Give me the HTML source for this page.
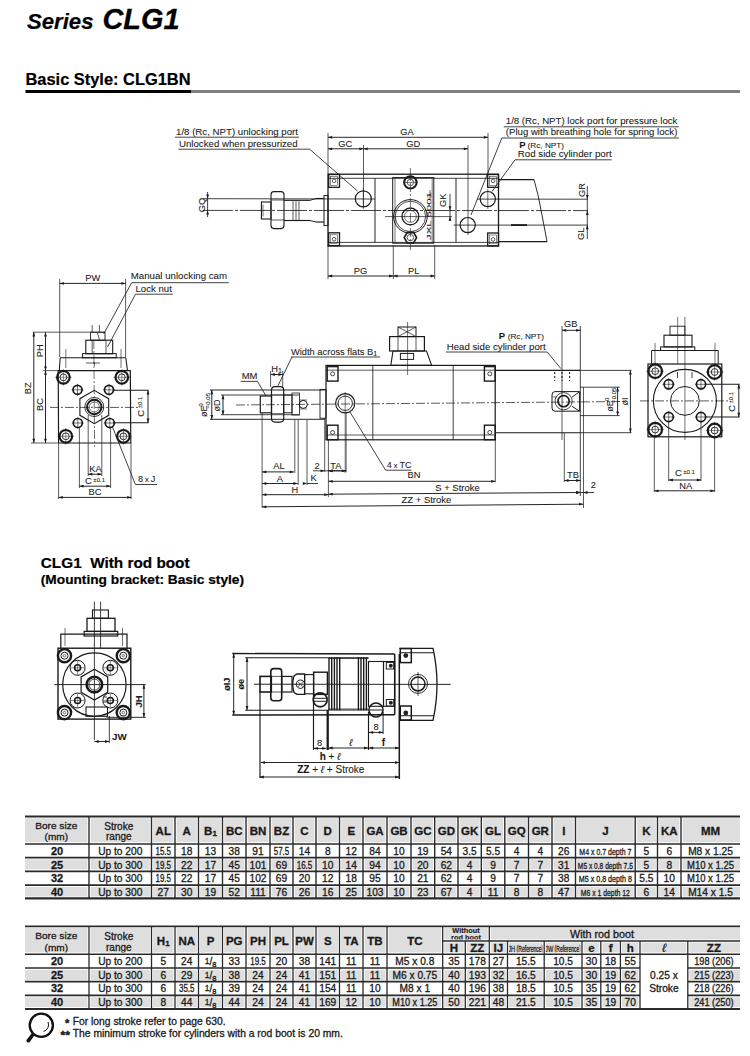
<!DOCTYPE html>
<html><head><meta charset="utf-8"><style>
html,body{margin:0;padding:0;background:#fff;width:750px;height:1056px;overflow:hidden}
svg{position:absolute;left:0;top:0;font-family:"Liberation Sans",sans-serif}
</style></head><body>
<svg width="750" height="1056" viewBox="0 0 750 1056">
<text x="27" y="29.3" font-size="22" text-anchor="start" font-weight="bold" font-style="italic" textLength="66.5" lengthAdjust="spacingAndGlyphs" stroke="#000" stroke-width="0.2" fill="#000">Series</text>
<text x="102.5" y="29.3" font-size="29" text-anchor="start" font-weight="bold" font-style="italic" textLength="77" lengthAdjust="spacingAndGlyphs" stroke="#000" stroke-width="0.3" fill="#000">CLG1</text>
<text x="25.5" y="84.5" font-size="16" text-anchor="start" font-weight="bold" textLength="165" lengthAdjust="spacingAndGlyphs" stroke="#000" stroke-width="0.2" fill="#000">Basic Style: CLG1BN</text>
<rect x="25.5" y="90" width="165.5" height="3" fill="#000"/>
<rect x="191" y="90" width="549" height="3" fill="#7f7f7f"/>
<rect x="25" y="816.5" width="715" height="27.5" fill="#dedede"/>
<rect x="25" y="857.6" width="715" height="13.7" fill="#dedede"/>
<rect x="25" y="885.2" width="715" height="13.2" fill="#dedede"/>
<text x="56.3" y="828.8" font-size="9.6" text-anchor="middle" font-weight="normal" textLength="42" lengthAdjust="spacingAndGlyphs" stroke="#1a1a1a" stroke-width="0.3" fill="#1a1a1a">Bore size</text>
<text x="56.3" y="840.3" font-size="9.6" text-anchor="middle" font-weight="normal" textLength="23.5" lengthAdjust="spacingAndGlyphs" stroke="#1a1a1a" stroke-width="0.3" fill="#1a1a1a">(mm)</text>
<text x="118.8" y="829.6" font-size="10" text-anchor="middle" font-weight="normal" textLength="29" lengthAdjust="spacingAndGlyphs" stroke="#1a1a1a" stroke-width="0.3" fill="#1a1a1a">Stroke</text>
<text x="118.8" y="840.2" font-size="10" text-anchor="middle" font-weight="normal" textLength="25.5" lengthAdjust="spacingAndGlyphs" stroke="#1a1a1a" stroke-width="0.3" fill="#1a1a1a">range</text>
<text x="163.25" y="834.6" font-size="11.5" text-anchor="middle" font-weight="bold" stroke="#1a1a1a" stroke-width="0.3" fill="#1a1a1a">AL</text>
<text x="186.75" y="834.6" font-size="11.5" text-anchor="middle" font-weight="bold" stroke="#1a1a1a" stroke-width="0.3" fill="#1a1a1a">A</text>
<text x="210.5" y="834.6" font-size="11.5" text-anchor="middle" font-weight="bold" stroke="#1a1a1a" stroke-width="0.3" fill="#1a1a1a">B<tspan font-size="8" dy="1">1</tspan></text>
<text x="234.25" y="834.6" font-size="11.5" text-anchor="middle" font-weight="bold" stroke="#1a1a1a" stroke-width="0.3" fill="#1a1a1a">BC</text>
<text x="258" y="834.6" font-size="11.5" text-anchor="middle" font-weight="bold" stroke="#1a1a1a" stroke-width="0.3" fill="#1a1a1a">BN</text>
<text x="281.5" y="834.6" font-size="11.5" text-anchor="middle" font-weight="bold" stroke="#1a1a1a" stroke-width="0.3" fill="#1a1a1a">BZ</text>
<text x="304.5" y="834.6" font-size="11.5" text-anchor="middle" font-weight="bold" stroke="#1a1a1a" stroke-width="0.3" fill="#1a1a1a">C</text>
<text x="327.75" y="834.6" font-size="11.5" text-anchor="middle" font-weight="bold" stroke="#1a1a1a" stroke-width="0.3" fill="#1a1a1a">D</text>
<text x="351.25" y="834.6" font-size="11.5" text-anchor="middle" font-weight="bold" stroke="#1a1a1a" stroke-width="0.3" fill="#1a1a1a">E</text>
<text x="375" y="834.6" font-size="11.5" text-anchor="middle" font-weight="bold" stroke="#1a1a1a" stroke-width="0.3" fill="#1a1a1a">GA</text>
<text x="399" y="834.6" font-size="11.5" text-anchor="middle" font-weight="bold" stroke="#1a1a1a" stroke-width="0.3" fill="#1a1a1a">GB</text>
<text x="422.85" y="834.6" font-size="11.5" text-anchor="middle" font-weight="bold" stroke="#1a1a1a" stroke-width="0.3" fill="#1a1a1a">GC</text>
<text x="446.35" y="834.6" font-size="11.5" text-anchor="middle" font-weight="bold" stroke="#1a1a1a" stroke-width="0.3" fill="#1a1a1a">GD</text>
<text x="469.65" y="834.6" font-size="11.5" text-anchor="middle" font-weight="bold" stroke="#1a1a1a" stroke-width="0.3" fill="#1a1a1a">GK</text>
<text x="493.05" y="834.6" font-size="11.5" text-anchor="middle" font-weight="bold" stroke="#1a1a1a" stroke-width="0.3" fill="#1a1a1a">GL</text>
<text x="516.65" y="834.6" font-size="11.5" text-anchor="middle" font-weight="bold" stroke="#1a1a1a" stroke-width="0.3" fill="#1a1a1a">GQ</text>
<text x="540.25" y="834.6" font-size="11.5" text-anchor="middle" font-weight="bold" stroke="#1a1a1a" stroke-width="0.3" fill="#1a1a1a">GR</text>
<text x="563.75" y="834.6" font-size="11.5" text-anchor="middle" font-weight="bold" stroke="#1a1a1a" stroke-width="0.3" fill="#1a1a1a">I</text>
<text x="605.35" y="834.6" font-size="11.5" text-anchor="middle" font-weight="bold" stroke="#1a1a1a" stroke-width="0.3" fill="#1a1a1a">J</text>
<text x="646.35" y="834.6" font-size="11.5" text-anchor="middle" font-weight="bold" stroke="#1a1a1a" stroke-width="0.3" fill="#1a1a1a">K</text>
<text x="669.25" y="834.6" font-size="11.5" text-anchor="middle" font-weight="bold" stroke="#1a1a1a" stroke-width="0.3" fill="#1a1a1a">KA</text>
<text x="710.5" y="834.6" font-size="11.5" text-anchor="middle" font-weight="bold" stroke="#1a1a1a" stroke-width="0.3" fill="#1a1a1a">MM</text>
<line x1="89" y1="816.5" x2="89" y2="898.4" stroke="#fff" stroke-width="3.2"/>
<line x1="151.5" y1="816.5" x2="151.5" y2="898.4" stroke="#fff" stroke-width="3.2"/>
<line x1="175" y1="816.5" x2="175" y2="898.4" stroke="#fff" stroke-width="3.2"/>
<line x1="198.5" y1="816.5" x2="198.5" y2="898.4" stroke="#fff" stroke-width="3.2"/>
<line x1="222.5" y1="816.5" x2="222.5" y2="898.4" stroke="#fff" stroke-width="3.2"/>
<line x1="246" y1="816.5" x2="246" y2="898.4" stroke="#fff" stroke-width="3.2"/>
<line x1="270" y1="816.5" x2="270" y2="898.4" stroke="#fff" stroke-width="3.2"/>
<line x1="293" y1="816.5" x2="293" y2="898.4" stroke="#fff" stroke-width="3.2"/>
<line x1="316" y1="816.5" x2="316" y2="898.4" stroke="#fff" stroke-width="3.2"/>
<line x1="339.5" y1="816.5" x2="339.5" y2="898.4" stroke="#fff" stroke-width="3.2"/>
<line x1="363" y1="816.5" x2="363" y2="898.4" stroke="#fff" stroke-width="3.2"/>
<line x1="387" y1="816.5" x2="387" y2="898.4" stroke="#fff" stroke-width="3.2"/>
<line x1="411" y1="816.5" x2="411" y2="898.4" stroke="#fff" stroke-width="3.2"/>
<line x1="434.7" y1="816.5" x2="434.7" y2="898.4" stroke="#fff" stroke-width="3.2"/>
<line x1="458" y1="816.5" x2="458" y2="898.4" stroke="#fff" stroke-width="3.2"/>
<line x1="481.3" y1="816.5" x2="481.3" y2="898.4" stroke="#fff" stroke-width="3.2"/>
<line x1="504.8" y1="816.5" x2="504.8" y2="898.4" stroke="#fff" stroke-width="3.2"/>
<line x1="528.5" y1="816.5" x2="528.5" y2="898.4" stroke="#fff" stroke-width="3.2"/>
<line x1="552" y1="816.5" x2="552" y2="898.4" stroke="#fff" stroke-width="3.2"/>
<line x1="575.5" y1="816.5" x2="575.5" y2="898.4" stroke="#fff" stroke-width="3.2"/>
<line x1="635.2" y1="816.5" x2="635.2" y2="898.4" stroke="#fff" stroke-width="3.2"/>
<line x1="657.5" y1="816.5" x2="657.5" y2="898.4" stroke="#fff" stroke-width="3.2"/>
<line x1="681" y1="816.5" x2="681" y2="898.4" stroke="#fff" stroke-width="3.2"/>
<line x1="25" y1="816.5" x2="740" y2="816.5" stroke="#fff" stroke-width="3.6"/>
<line x1="25" y1="844" x2="740" y2="844" stroke="#fff" stroke-width="3.4"/>
<line x1="25" y1="857.6" x2="740" y2="857.6" stroke="#fff" stroke-width="3.5"/>
<line x1="25" y1="871.3" x2="740" y2="871.3" stroke="#fff" stroke-width="3.5"/>
<line x1="25" y1="885.2" x2="740" y2="885.2" stroke="#fff" stroke-width="3.5"/>
<line x1="25" y1="898.4" x2="740" y2="898.4" stroke="#fff" stroke-width="3.9"/>
<line x1="89" y1="816.5" x2="89" y2="898.4" stroke="#2a2a2a" stroke-width="1.4"/>
<line x1="151.5" y1="816.5" x2="151.5" y2="898.4" stroke="#2a2a2a" stroke-width="1.4"/>
<line x1="175" y1="816.5" x2="175" y2="898.4" stroke="#2a2a2a" stroke-width="1.4"/>
<line x1="198.5" y1="816.5" x2="198.5" y2="898.4" stroke="#2a2a2a" stroke-width="1.4"/>
<line x1="222.5" y1="816.5" x2="222.5" y2="898.4" stroke="#2a2a2a" stroke-width="1.4"/>
<line x1="246" y1="816.5" x2="246" y2="898.4" stroke="#2a2a2a" stroke-width="1.4"/>
<line x1="270" y1="816.5" x2="270" y2="898.4" stroke="#2a2a2a" stroke-width="1.4"/>
<line x1="293" y1="816.5" x2="293" y2="898.4" stroke="#2a2a2a" stroke-width="1.4"/>
<line x1="316" y1="816.5" x2="316" y2="898.4" stroke="#2a2a2a" stroke-width="1.4"/>
<line x1="339.5" y1="816.5" x2="339.5" y2="898.4" stroke="#2a2a2a" stroke-width="1.4"/>
<line x1="363" y1="816.5" x2="363" y2="898.4" stroke="#2a2a2a" stroke-width="1.4"/>
<line x1="387" y1="816.5" x2="387" y2="898.4" stroke="#2a2a2a" stroke-width="1.4"/>
<line x1="411" y1="816.5" x2="411" y2="898.4" stroke="#2a2a2a" stroke-width="1.4"/>
<line x1="434.7" y1="816.5" x2="434.7" y2="898.4" stroke="#2a2a2a" stroke-width="1.4"/>
<line x1="458" y1="816.5" x2="458" y2="898.4" stroke="#2a2a2a" stroke-width="1.4"/>
<line x1="481.3" y1="816.5" x2="481.3" y2="898.4" stroke="#2a2a2a" stroke-width="1.4"/>
<line x1="504.8" y1="816.5" x2="504.8" y2="898.4" stroke="#2a2a2a" stroke-width="1.4"/>
<line x1="528.5" y1="816.5" x2="528.5" y2="898.4" stroke="#2a2a2a" stroke-width="1.4"/>
<line x1="552" y1="816.5" x2="552" y2="898.4" stroke="#2a2a2a" stroke-width="1.4"/>
<line x1="575.5" y1="816.5" x2="575.5" y2="898.4" stroke="#2a2a2a" stroke-width="1.4"/>
<line x1="635.2" y1="816.5" x2="635.2" y2="898.4" stroke="#2a2a2a" stroke-width="1.4"/>
<line x1="657.5" y1="816.5" x2="657.5" y2="898.4" stroke="#2a2a2a" stroke-width="1.4"/>
<line x1="681" y1="816.5" x2="681" y2="898.4" stroke="#2a2a2a" stroke-width="1.4"/>
<line x1="25" y1="816.5" x2="740" y2="816.5" stroke="#2a2a2a" stroke-width="1.8"/>
<line x1="25" y1="844" x2="740" y2="844" stroke="#2a2a2a" stroke-width="1.6"/>
<line x1="25" y1="857.6" x2="740" y2="857.6" stroke="#2a2a2a" stroke-width="1.7"/>
<line x1="25" y1="871.3" x2="740" y2="871.3" stroke="#2a2a2a" stroke-width="1.7"/>
<line x1="25" y1="885.2" x2="740" y2="885.2" stroke="#2a2a2a" stroke-width="1.7"/>
<line x1="25" y1="898.4" x2="740" y2="898.4" stroke="#2a2a2a" stroke-width="2.1"/>
<text x="57" y="855.05" font-size="11" text-anchor="middle" font-weight="bold" stroke="#1a1a1a" stroke-width="0.3" fill="#1a1a1a">20</text>
<text x="120.25" y="855.05" font-size="10.2" text-anchor="middle" font-weight="normal" stroke="#1a1a1a" stroke-width="0.3" fill="#1a1a1a">Up to 200</text>
<text x="163.25" y="855.05" font-size="10.2" text-anchor="middle" font-weight="normal" textLength="15.5" lengthAdjust="spacingAndGlyphs" stroke="#1a1a1a" stroke-width="0.3" fill="#1a1a1a">15.5</text>
<text x="186.75" y="855.05" font-size="10.2" text-anchor="middle" font-weight="normal" stroke="#1a1a1a" stroke-width="0.3" fill="#1a1a1a">18</text>
<text x="210.5" y="855.05" font-size="10.2" text-anchor="middle" font-weight="normal" stroke="#1a1a1a" stroke-width="0.3" fill="#1a1a1a">13</text>
<text x="234.25" y="855.05" font-size="10.2" text-anchor="middle" font-weight="normal" stroke="#1a1a1a" stroke-width="0.3" fill="#1a1a1a">38</text>
<text x="258" y="855.05" font-size="10.2" text-anchor="middle" font-weight="normal" stroke="#1a1a1a" stroke-width="0.3" fill="#1a1a1a">91</text>
<text x="281.5" y="855.05" font-size="10.2" text-anchor="middle" font-weight="normal" textLength="15.5" lengthAdjust="spacingAndGlyphs" stroke="#1a1a1a" stroke-width="0.3" fill="#1a1a1a">57.5</text>
<text x="304.5" y="855.05" font-size="10.2" text-anchor="middle" font-weight="normal" stroke="#1a1a1a" stroke-width="0.3" fill="#1a1a1a">14</text>
<text x="327.75" y="855.05" font-size="10.2" text-anchor="middle" font-weight="normal" stroke="#1a1a1a" stroke-width="0.3" fill="#1a1a1a">8</text>
<text x="351.25" y="855.05" font-size="10.2" text-anchor="middle" font-weight="normal" stroke="#1a1a1a" stroke-width="0.3" fill="#1a1a1a">12</text>
<text x="375" y="855.05" font-size="10.2" text-anchor="middle" font-weight="normal" stroke="#1a1a1a" stroke-width="0.3" fill="#1a1a1a">84</text>
<text x="399" y="855.05" font-size="10.2" text-anchor="middle" font-weight="normal" stroke="#1a1a1a" stroke-width="0.3" fill="#1a1a1a">10</text>
<text x="422.85" y="855.05" font-size="10.2" text-anchor="middle" font-weight="normal" stroke="#1a1a1a" stroke-width="0.3" fill="#1a1a1a">19</text>
<text x="446.35" y="855.05" font-size="10.2" text-anchor="middle" font-weight="normal" stroke="#1a1a1a" stroke-width="0.3" fill="#1a1a1a">54</text>
<text x="469.65" y="855.05" font-size="10.2" text-anchor="middle" font-weight="normal" stroke="#1a1a1a" stroke-width="0.3" fill="#1a1a1a">3.5</text>
<text x="493.05" y="855.05" font-size="10.2" text-anchor="middle" font-weight="normal" stroke="#1a1a1a" stroke-width="0.3" fill="#1a1a1a">5.5</text>
<text x="516.65" y="855.05" font-size="10.2" text-anchor="middle" font-weight="normal" stroke="#1a1a1a" stroke-width="0.3" fill="#1a1a1a">4</text>
<text x="540.25" y="855.05" font-size="10.2" text-anchor="middle" font-weight="normal" stroke="#1a1a1a" stroke-width="0.3" fill="#1a1a1a">4</text>
<text x="563.75" y="855.05" font-size="10.2" text-anchor="middle" font-weight="normal" stroke="#1a1a1a" stroke-width="0.3" fill="#1a1a1a">26</text>
<text x="605.35" y="855.05" font-size="9.2" text-anchor="middle" font-weight="normal" textLength="52" lengthAdjust="spacingAndGlyphs" stroke="#1a1a1a" stroke-width="0.3" fill="#1a1a1a">M4 x 0.7 depth 7</text>
<text x="646.35" y="855.05" font-size="10.2" text-anchor="middle" font-weight="normal" stroke="#1a1a1a" stroke-width="0.3" fill="#1a1a1a">5</text>
<text x="669.25" y="855.05" font-size="10.2" text-anchor="middle" font-weight="normal" stroke="#1a1a1a" stroke-width="0.3" fill="#1a1a1a">6</text>
<text x="710.5" y="855.05" font-size="10.2" text-anchor="middle" font-weight="normal" stroke="#1a1a1a" stroke-width="0.3" fill="#1a1a1a">M8 x 1.25</text>
<text x="57" y="868.65" font-size="11" text-anchor="middle" font-weight="bold" stroke="#1a1a1a" stroke-width="0.3" fill="#1a1a1a">25</text>
<text x="120.25" y="868.65" font-size="10.2" text-anchor="middle" font-weight="normal" stroke="#1a1a1a" stroke-width="0.3" fill="#1a1a1a">Up to 300</text>
<text x="163.25" y="868.65" font-size="10.2" text-anchor="middle" font-weight="normal" textLength="15.5" lengthAdjust="spacingAndGlyphs" stroke="#1a1a1a" stroke-width="0.3" fill="#1a1a1a">19.5</text>
<text x="186.75" y="868.65" font-size="10.2" text-anchor="middle" font-weight="normal" stroke="#1a1a1a" stroke-width="0.3" fill="#1a1a1a">22</text>
<text x="210.5" y="868.65" font-size="10.2" text-anchor="middle" font-weight="normal" stroke="#1a1a1a" stroke-width="0.3" fill="#1a1a1a">17</text>
<text x="234.25" y="868.65" font-size="10.2" text-anchor="middle" font-weight="normal" stroke="#1a1a1a" stroke-width="0.3" fill="#1a1a1a">45</text>
<text x="258" y="868.65" font-size="10.2" text-anchor="middle" font-weight="normal" stroke="#1a1a1a" stroke-width="0.3" fill="#1a1a1a">101</text>
<text x="281.5" y="868.65" font-size="10.2" text-anchor="middle" font-weight="normal" stroke="#1a1a1a" stroke-width="0.3" fill="#1a1a1a">69</text>
<text x="304.5" y="868.65" font-size="10.2" text-anchor="middle" font-weight="normal" textLength="15.5" lengthAdjust="spacingAndGlyphs" stroke="#1a1a1a" stroke-width="0.3" fill="#1a1a1a">16.5</text>
<text x="327.75" y="868.65" font-size="10.2" text-anchor="middle" font-weight="normal" stroke="#1a1a1a" stroke-width="0.3" fill="#1a1a1a">10</text>
<text x="351.25" y="868.65" font-size="10.2" text-anchor="middle" font-weight="normal" stroke="#1a1a1a" stroke-width="0.3" fill="#1a1a1a">14</text>
<text x="375" y="868.65" font-size="10.2" text-anchor="middle" font-weight="normal" stroke="#1a1a1a" stroke-width="0.3" fill="#1a1a1a">94</text>
<text x="399" y="868.65" font-size="10.2" text-anchor="middle" font-weight="normal" stroke="#1a1a1a" stroke-width="0.3" fill="#1a1a1a">10</text>
<text x="422.85" y="868.65" font-size="10.2" text-anchor="middle" font-weight="normal" stroke="#1a1a1a" stroke-width="0.3" fill="#1a1a1a">20</text>
<text x="446.35" y="868.65" font-size="10.2" text-anchor="middle" font-weight="normal" stroke="#1a1a1a" stroke-width="0.3" fill="#1a1a1a">62</text>
<text x="469.65" y="868.65" font-size="10.2" text-anchor="middle" font-weight="normal" stroke="#1a1a1a" stroke-width="0.3" fill="#1a1a1a">4</text>
<text x="493.05" y="868.65" font-size="10.2" text-anchor="middle" font-weight="normal" stroke="#1a1a1a" stroke-width="0.3" fill="#1a1a1a">9</text>
<text x="516.65" y="868.65" font-size="10.2" text-anchor="middle" font-weight="normal" stroke="#1a1a1a" stroke-width="0.3" fill="#1a1a1a">7</text>
<text x="540.25" y="868.65" font-size="10.2" text-anchor="middle" font-weight="normal" stroke="#1a1a1a" stroke-width="0.3" fill="#1a1a1a">7</text>
<text x="563.75" y="868.65" font-size="10.2" text-anchor="middle" font-weight="normal" stroke="#1a1a1a" stroke-width="0.3" fill="#1a1a1a">31</text>
<text x="605.35" y="868.65" font-size="9.2" text-anchor="middle" font-weight="normal" textLength="55" lengthAdjust="spacingAndGlyphs" stroke="#1a1a1a" stroke-width="0.3" fill="#1a1a1a">M5 x 0.8 depth 7.5</text>
<text x="646.35" y="868.65" font-size="10.2" text-anchor="middle" font-weight="normal" stroke="#1a1a1a" stroke-width="0.3" fill="#1a1a1a">5</text>
<text x="669.25" y="868.65" font-size="10.2" text-anchor="middle" font-weight="normal" stroke="#1a1a1a" stroke-width="0.3" fill="#1a1a1a">8</text>
<text x="710.5" y="868.65" font-size="10.2" text-anchor="middle" font-weight="normal" textLength="47" lengthAdjust="spacingAndGlyphs" stroke="#1a1a1a" stroke-width="0.3" fill="#1a1a1a">M10 x 1.25</text>
<text x="57" y="882.45" font-size="11" text-anchor="middle" font-weight="bold" stroke="#1a1a1a" stroke-width="0.3" fill="#1a1a1a">32</text>
<text x="120.25" y="882.45" font-size="10.2" text-anchor="middle" font-weight="normal" stroke="#1a1a1a" stroke-width="0.3" fill="#1a1a1a">Up to 300</text>
<text x="163.25" y="882.45" font-size="10.2" text-anchor="middle" font-weight="normal" textLength="15.5" lengthAdjust="spacingAndGlyphs" stroke="#1a1a1a" stroke-width="0.3" fill="#1a1a1a">19.5</text>
<text x="186.75" y="882.45" font-size="10.2" text-anchor="middle" font-weight="normal" stroke="#1a1a1a" stroke-width="0.3" fill="#1a1a1a">22</text>
<text x="210.5" y="882.45" font-size="10.2" text-anchor="middle" font-weight="normal" stroke="#1a1a1a" stroke-width="0.3" fill="#1a1a1a">17</text>
<text x="234.25" y="882.45" font-size="10.2" text-anchor="middle" font-weight="normal" stroke="#1a1a1a" stroke-width="0.3" fill="#1a1a1a">45</text>
<text x="258" y="882.45" font-size="10.2" text-anchor="middle" font-weight="normal" stroke="#1a1a1a" stroke-width="0.3" fill="#1a1a1a">102</text>
<text x="281.5" y="882.45" font-size="10.2" text-anchor="middle" font-weight="normal" stroke="#1a1a1a" stroke-width="0.3" fill="#1a1a1a">69</text>
<text x="304.5" y="882.45" font-size="10.2" text-anchor="middle" font-weight="normal" stroke="#1a1a1a" stroke-width="0.3" fill="#1a1a1a">20</text>
<text x="327.75" y="882.45" font-size="10.2" text-anchor="middle" font-weight="normal" stroke="#1a1a1a" stroke-width="0.3" fill="#1a1a1a">12</text>
<text x="351.25" y="882.45" font-size="10.2" text-anchor="middle" font-weight="normal" stroke="#1a1a1a" stroke-width="0.3" fill="#1a1a1a">18</text>
<text x="375" y="882.45" font-size="10.2" text-anchor="middle" font-weight="normal" stroke="#1a1a1a" stroke-width="0.3" fill="#1a1a1a">95</text>
<text x="399" y="882.45" font-size="10.2" text-anchor="middle" font-weight="normal" stroke="#1a1a1a" stroke-width="0.3" fill="#1a1a1a">10</text>
<text x="422.85" y="882.45" font-size="10.2" text-anchor="middle" font-weight="normal" stroke="#1a1a1a" stroke-width="0.3" fill="#1a1a1a">21</text>
<text x="446.35" y="882.45" font-size="10.2" text-anchor="middle" font-weight="normal" stroke="#1a1a1a" stroke-width="0.3" fill="#1a1a1a">62</text>
<text x="469.65" y="882.45" font-size="10.2" text-anchor="middle" font-weight="normal" stroke="#1a1a1a" stroke-width="0.3" fill="#1a1a1a">4</text>
<text x="493.05" y="882.45" font-size="10.2" text-anchor="middle" font-weight="normal" stroke="#1a1a1a" stroke-width="0.3" fill="#1a1a1a">9</text>
<text x="516.65" y="882.45" font-size="10.2" text-anchor="middle" font-weight="normal" stroke="#1a1a1a" stroke-width="0.3" fill="#1a1a1a">7</text>
<text x="540.25" y="882.45" font-size="10.2" text-anchor="middle" font-weight="normal" stroke="#1a1a1a" stroke-width="0.3" fill="#1a1a1a">7</text>
<text x="563.75" y="882.45" font-size="10.2" text-anchor="middle" font-weight="normal" stroke="#1a1a1a" stroke-width="0.3" fill="#1a1a1a">38</text>
<text x="605.35" y="882.45" font-size="9.2" text-anchor="middle" font-weight="normal" textLength="53" lengthAdjust="spacingAndGlyphs" stroke="#1a1a1a" stroke-width="0.3" fill="#1a1a1a">M5 x 0.8 depth 8</text>
<text x="646.35" y="882.45" font-size="10.2" text-anchor="middle" font-weight="normal" stroke="#1a1a1a" stroke-width="0.3" fill="#1a1a1a">5.5</text>
<text x="669.25" y="882.45" font-size="10.2" text-anchor="middle" font-weight="normal" stroke="#1a1a1a" stroke-width="0.3" fill="#1a1a1a">10</text>
<text x="710.5" y="882.45" font-size="10.2" text-anchor="middle" font-weight="normal" textLength="47" lengthAdjust="spacingAndGlyphs" stroke="#1a1a1a" stroke-width="0.3" fill="#1a1a1a">M10 x 1.25</text>
<text x="57" y="896" font-size="11" text-anchor="middle" font-weight="bold" stroke="#1a1a1a" stroke-width="0.3" fill="#1a1a1a">40</text>
<text x="120.25" y="896" font-size="10.2" text-anchor="middle" font-weight="normal" stroke="#1a1a1a" stroke-width="0.3" fill="#1a1a1a">Up to 300</text>
<text x="163.25" y="896" font-size="10.2" text-anchor="middle" font-weight="normal" stroke="#1a1a1a" stroke-width="0.3" fill="#1a1a1a">27</text>
<text x="186.75" y="896" font-size="10.2" text-anchor="middle" font-weight="normal" stroke="#1a1a1a" stroke-width="0.3" fill="#1a1a1a">30</text>
<text x="210.5" y="896" font-size="10.2" text-anchor="middle" font-weight="normal" stroke="#1a1a1a" stroke-width="0.3" fill="#1a1a1a">19</text>
<text x="234.25" y="896" font-size="10.2" text-anchor="middle" font-weight="normal" stroke="#1a1a1a" stroke-width="0.3" fill="#1a1a1a">52</text>
<text x="258" y="896" font-size="10.2" text-anchor="middle" font-weight="normal" stroke="#1a1a1a" stroke-width="0.3" fill="#1a1a1a">111</text>
<text x="281.5" y="896" font-size="10.2" text-anchor="middle" font-weight="normal" stroke="#1a1a1a" stroke-width="0.3" fill="#1a1a1a">76</text>
<text x="304.5" y="896" font-size="10.2" text-anchor="middle" font-weight="normal" stroke="#1a1a1a" stroke-width="0.3" fill="#1a1a1a">26</text>
<text x="327.75" y="896" font-size="10.2" text-anchor="middle" font-weight="normal" stroke="#1a1a1a" stroke-width="0.3" fill="#1a1a1a">16</text>
<text x="351.25" y="896" font-size="10.2" text-anchor="middle" font-weight="normal" stroke="#1a1a1a" stroke-width="0.3" fill="#1a1a1a">25</text>
<text x="375" y="896" font-size="10.2" text-anchor="middle" font-weight="normal" stroke="#1a1a1a" stroke-width="0.3" fill="#1a1a1a">103</text>
<text x="399" y="896" font-size="10.2" text-anchor="middle" font-weight="normal" stroke="#1a1a1a" stroke-width="0.3" fill="#1a1a1a">10</text>
<text x="422.85" y="896" font-size="10.2" text-anchor="middle" font-weight="normal" stroke="#1a1a1a" stroke-width="0.3" fill="#1a1a1a">23</text>
<text x="446.35" y="896" font-size="10.2" text-anchor="middle" font-weight="normal" stroke="#1a1a1a" stroke-width="0.3" fill="#1a1a1a">67</text>
<text x="469.65" y="896" font-size="10.2" text-anchor="middle" font-weight="normal" stroke="#1a1a1a" stroke-width="0.3" fill="#1a1a1a">4</text>
<text x="493.05" y="896" font-size="10.2" text-anchor="middle" font-weight="normal" stroke="#1a1a1a" stroke-width="0.3" fill="#1a1a1a">11</text>
<text x="516.65" y="896" font-size="10.2" text-anchor="middle" font-weight="normal" stroke="#1a1a1a" stroke-width="0.3" fill="#1a1a1a">8</text>
<text x="540.25" y="896" font-size="10.2" text-anchor="middle" font-weight="normal" stroke="#1a1a1a" stroke-width="0.3" fill="#1a1a1a">8</text>
<text x="563.75" y="896" font-size="10.2" text-anchor="middle" font-weight="normal" stroke="#1a1a1a" stroke-width="0.3" fill="#1a1a1a">47</text>
<text x="605.35" y="896" font-size="9.2" text-anchor="middle" font-weight="normal" textLength="49" lengthAdjust="spacingAndGlyphs" stroke="#1a1a1a" stroke-width="0.3" fill="#1a1a1a">M6 x 1 depth 12</text>
<text x="646.35" y="896" font-size="10.2" text-anchor="middle" font-weight="normal" stroke="#1a1a1a" stroke-width="0.3" fill="#1a1a1a">6</text>
<text x="669.25" y="896" font-size="10.2" text-anchor="middle" font-weight="normal" stroke="#1a1a1a" stroke-width="0.3" fill="#1a1a1a">14</text>
<text x="710.5" y="896" font-size="10.2" text-anchor="middle" font-weight="normal" stroke="#1a1a1a" stroke-width="0.3" fill="#1a1a1a">M14 x 1.5</text>
<rect x="25" y="926.3" width="715" height="27.9" fill="#dedede"/>
<rect x="25" y="968" width="715" height="13.7" fill="#dedede"/>
<rect x="25" y="995.4" width="715" height="13.6" fill="#dedede"/>
<rect x="640" y="954.2" width="47.8" height="54.8" fill="#fff"/>
<text x="56.3" y="939.4" font-size="9.6" text-anchor="middle" font-weight="normal" textLength="42" lengthAdjust="spacingAndGlyphs" stroke="#1a1a1a" stroke-width="0.3" fill="#1a1a1a">Bore size</text>
<text x="56.3" y="950.6" font-size="9.6" text-anchor="middle" font-weight="normal" textLength="23.5" lengthAdjust="spacingAndGlyphs" stroke="#1a1a1a" stroke-width="0.3" fill="#1a1a1a">(mm)</text>
<text x="118.8" y="939.9" font-size="10" text-anchor="middle" font-weight="normal" textLength="29" lengthAdjust="spacingAndGlyphs" stroke="#1a1a1a" stroke-width="0.3" fill="#1a1a1a">Stroke</text>
<text x="118.8" y="950.5" font-size="10" text-anchor="middle" font-weight="normal" textLength="25.5" lengthAdjust="spacingAndGlyphs" stroke="#1a1a1a" stroke-width="0.3" fill="#1a1a1a">range</text>
<text x="163.25" y="944.5" font-size="11.5" text-anchor="middle" font-weight="bold" stroke="#1a1a1a" stroke-width="0.3" fill="#1a1a1a">H<tspan font-size="8" dy="1">1</tspan></text>
<text x="186.75" y="944.5" font-size="11.5" text-anchor="middle" font-weight="bold" stroke="#1a1a1a" stroke-width="0.3" fill="#1a1a1a">NA</text>
<text x="210.5" y="944.5" font-size="11.5" text-anchor="middle" font-weight="bold" stroke="#1a1a1a" stroke-width="0.3" fill="#1a1a1a">P</text>
<text x="234.25" y="944.5" font-size="11.5" text-anchor="middle" font-weight="bold" stroke="#1a1a1a" stroke-width="0.3" fill="#1a1a1a">PG</text>
<text x="258" y="944.5" font-size="11.5" text-anchor="middle" font-weight="bold" stroke="#1a1a1a" stroke-width="0.3" fill="#1a1a1a">PH</text>
<text x="281.5" y="944.5" font-size="11.5" text-anchor="middle" font-weight="bold" stroke="#1a1a1a" stroke-width="0.3" fill="#1a1a1a">PL</text>
<text x="304.5" y="944.5" font-size="11.5" text-anchor="middle" font-weight="bold" stroke="#1a1a1a" stroke-width="0.3" fill="#1a1a1a">PW</text>
<text x="327.75" y="944.5" font-size="11.5" text-anchor="middle" font-weight="bold" stroke="#1a1a1a" stroke-width="0.3" fill="#1a1a1a">S</text>
<text x="351.25" y="944.5" font-size="11.5" text-anchor="middle" font-weight="bold" stroke="#1a1a1a" stroke-width="0.3" fill="#1a1a1a">TA</text>
<text x="375" y="944.5" font-size="11.5" text-anchor="middle" font-weight="bold" stroke="#1a1a1a" stroke-width="0.3" fill="#1a1a1a">TB</text>
<text x="414.85" y="944.5" font-size="11.5" text-anchor="middle" font-weight="bold" stroke="#1a1a1a" stroke-width="0.3" fill="#1a1a1a">TC</text>
<text x="466" y="933" font-size="7.4" text-anchor="middle" font-weight="bold" stroke="#1a1a1a" stroke-width="0.15" fill="#1a1a1a">Without</text>
<text x="466" y="939.7" font-size="7.4" text-anchor="middle" font-weight="bold" stroke="#1a1a1a" stroke-width="0.15" fill="#1a1a1a">rod boot</text>
<text x="602" y="937.8" font-size="10.5" text-anchor="middle" font-weight="normal" textLength="64" lengthAdjust="spacingAndGlyphs" stroke="#1a1a1a" stroke-width="0.3" fill="#1a1a1a">With rod boot</text>
<text x="454" y="951.8" font-size="11.5" text-anchor="middle" font-weight="bold" stroke="#1a1a1a" stroke-width="0.3" fill="#1a1a1a">H</text>
<text x="477.3" y="951.8" font-size="11.5" text-anchor="middle" font-weight="bold" stroke="#1a1a1a" stroke-width="0.3" fill="#1a1a1a">ZZ</text>
<text x="498.4" y="951.8" font-size="11.5" text-anchor="middle" font-weight="bold" stroke="#1a1a1a" stroke-width="0.3" fill="#1a1a1a">IJ</text>
<text x="591.4" y="951.8" font-size="11.5" text-anchor="middle" font-weight="bold" stroke="#1a1a1a" stroke-width="0.3" fill="#1a1a1a">e</text>
<text x="610.6" y="951.8" font-size="11.5" text-anchor="middle" font-weight="bold" stroke="#1a1a1a" stroke-width="0.3" fill="#1a1a1a">f</text>
<text x="630.2" y="951.8" font-size="11.5" text-anchor="middle" font-weight="bold" stroke="#1a1a1a" stroke-width="0.3" fill="#1a1a1a">h</text>
<text x="713.9" y="951.8" font-size="11.5" text-anchor="middle" font-weight="bold" stroke="#1a1a1a" stroke-width="0.3" fill="#1a1a1a">ZZ</text>
<text x="525.8" y="951.5" font-size="9.5" text-anchor="middle" font-weight="normal" textLength="35" lengthAdjust="spacingAndGlyphs" stroke="#1a1a1a" stroke-width="0.3" fill="#1a1a1a">JH<tspan font-size="8.5"> (Reference)</tspan></text>
<text x="563.1" y="951.5" font-size="9.5" text-anchor="middle" font-weight="normal" textLength="36" lengthAdjust="spacingAndGlyphs" stroke="#1a1a1a" stroke-width="0.3" fill="#1a1a1a">JW<tspan font-size="8.5"> (Reference)</tspan></text>
<text x="663.9" y="951.8" font-size="12" text-anchor="middle" font-weight="normal" font-style="italic" stroke="#1a1a1a" stroke-width="0.2" fill="#1a1a1a">ℓ</text>
<text x="663.9" y="979.3" font-size="10.2" text-anchor="middle" font-weight="normal" stroke="#1a1a1a" stroke-width="0.3" fill="#1a1a1a">0.25 x</text>
<text x="663.9" y="992.2" font-size="10.2" text-anchor="middle" font-weight="normal" stroke="#1a1a1a" stroke-width="0.3" fill="#1a1a1a">Stroke</text>
<line x1="89" y1="926.3" x2="89" y2="1009" stroke="#fff" stroke-width="3.1"/>
<line x1="151.5" y1="926.3" x2="151.5" y2="1009" stroke="#fff" stroke-width="3.1"/>
<line x1="175" y1="926.3" x2="175" y2="1009" stroke="#fff" stroke-width="3.1"/>
<line x1="198.5" y1="926.3" x2="198.5" y2="1009" stroke="#fff" stroke-width="3.1"/>
<line x1="222.5" y1="926.3" x2="222.5" y2="1009" stroke="#fff" stroke-width="3.1"/>
<line x1="246" y1="926.3" x2="246" y2="1009" stroke="#fff" stroke-width="3.1"/>
<line x1="270" y1="926.3" x2="270" y2="1009" stroke="#fff" stroke-width="3.1"/>
<line x1="293" y1="926.3" x2="293" y2="1009" stroke="#fff" stroke-width="3.1"/>
<line x1="316" y1="926.3" x2="316" y2="1009" stroke="#fff" stroke-width="3.1"/>
<line x1="339.5" y1="926.3" x2="339.5" y2="1009" stroke="#fff" stroke-width="3.1"/>
<line x1="363" y1="926.3" x2="363" y2="1009" stroke="#fff" stroke-width="3.1"/>
<line x1="387" y1="926.3" x2="387" y2="1009" stroke="#fff" stroke-width="3.1"/>
<line x1="442.7" y1="926.3" x2="442.7" y2="1009" stroke="#fff" stroke-width="3.1"/>
<line x1="489.3" y1="926.3" x2="489.3" y2="1009" stroke="#fff" stroke-width="3.1"/>
<line x1="465.3" y1="941" x2="465.3" y2="1009" stroke="#fff" stroke-width="3.1"/>
<line x1="507.5" y1="941" x2="507.5" y2="1009" stroke="#fff" stroke-width="3.1"/>
<line x1="544.2" y1="941" x2="544.2" y2="1009" stroke="#fff" stroke-width="3.1"/>
<line x1="582" y1="941" x2="582" y2="1009" stroke="#fff" stroke-width="3.1"/>
<line x1="600.8" y1="941" x2="600.8" y2="1009" stroke="#fff" stroke-width="3.1"/>
<line x1="620.4" y1="941" x2="620.4" y2="1009" stroke="#fff" stroke-width="3.1"/>
<line x1="640" y1="941" x2="640" y2="1009" stroke="#fff" stroke-width="3.1"/>
<line x1="687.8" y1="941" x2="687.8" y2="1009" stroke="#fff" stroke-width="3.1"/>
<line x1="442.7" y1="941" x2="740" y2="941" stroke="#fff" stroke-width="3.1"/>
<line x1="25" y1="926.3" x2="740" y2="926.3" stroke="#fff" stroke-width="3.6"/>
<line x1="25" y1="954.2" x2="740" y2="954.2" stroke="#fff" stroke-width="3.4"/>
<line x1="25" y1="968" x2="640" y2="968" stroke="#fff" stroke-width="3.5"/>
<line x1="687.8" y1="968" x2="740" y2="968" stroke="#fff" stroke-width="3.5"/>
<line x1="25" y1="981.7" x2="640" y2="981.7" stroke="#fff" stroke-width="3.5"/>
<line x1="687.8" y1="981.7" x2="740" y2="981.7" stroke="#fff" stroke-width="3.5"/>
<line x1="25" y1="995.4" x2="640" y2="995.4" stroke="#fff" stroke-width="3.5"/>
<line x1="687.8" y1="995.4" x2="740" y2="995.4" stroke="#fff" stroke-width="3.5"/>
<line x1="25" y1="1009" x2="740" y2="1009" stroke="#fff" stroke-width="3.9"/>
<line x1="89" y1="926.3" x2="89" y2="1009" stroke="#2a2a2a" stroke-width="1.3"/>
<line x1="151.5" y1="926.3" x2="151.5" y2="1009" stroke="#2a2a2a" stroke-width="1.3"/>
<line x1="175" y1="926.3" x2="175" y2="1009" stroke="#2a2a2a" stroke-width="1.3"/>
<line x1="198.5" y1="926.3" x2="198.5" y2="1009" stroke="#2a2a2a" stroke-width="1.3"/>
<line x1="222.5" y1="926.3" x2="222.5" y2="1009" stroke="#2a2a2a" stroke-width="1.3"/>
<line x1="246" y1="926.3" x2="246" y2="1009" stroke="#2a2a2a" stroke-width="1.3"/>
<line x1="270" y1="926.3" x2="270" y2="1009" stroke="#2a2a2a" stroke-width="1.3"/>
<line x1="293" y1="926.3" x2="293" y2="1009" stroke="#2a2a2a" stroke-width="1.3"/>
<line x1="316" y1="926.3" x2="316" y2="1009" stroke="#2a2a2a" stroke-width="1.3"/>
<line x1="339.5" y1="926.3" x2="339.5" y2="1009" stroke="#2a2a2a" stroke-width="1.3"/>
<line x1="363" y1="926.3" x2="363" y2="1009" stroke="#2a2a2a" stroke-width="1.3"/>
<line x1="387" y1="926.3" x2="387" y2="1009" stroke="#2a2a2a" stroke-width="1.3"/>
<line x1="442.7" y1="926.3" x2="442.7" y2="1009" stroke="#2a2a2a" stroke-width="1.3"/>
<line x1="489.3" y1="926.3" x2="489.3" y2="1009" stroke="#2a2a2a" stroke-width="1.3"/>
<line x1="465.3" y1="941" x2="465.3" y2="1009" stroke="#2a2a2a" stroke-width="1.3"/>
<line x1="507.5" y1="941" x2="507.5" y2="1009" stroke="#2a2a2a" stroke-width="1.3"/>
<line x1="544.2" y1="941" x2="544.2" y2="1009" stroke="#2a2a2a" stroke-width="1.3"/>
<line x1="582" y1="941" x2="582" y2="1009" stroke="#2a2a2a" stroke-width="1.3"/>
<line x1="600.8" y1="941" x2="600.8" y2="1009" stroke="#2a2a2a" stroke-width="1.3"/>
<line x1="620.4" y1="941" x2="620.4" y2="1009" stroke="#2a2a2a" stroke-width="1.3"/>
<line x1="640" y1="941" x2="640" y2="1009" stroke="#2a2a2a" stroke-width="1.3"/>
<line x1="687.8" y1="941" x2="687.8" y2="1009" stroke="#2a2a2a" stroke-width="1.3"/>
<line x1="442.7" y1="941" x2="740" y2="941" stroke="#2a2a2a" stroke-width="1.3"/>
<line x1="25" y1="926.3" x2="740" y2="926.3" stroke="#2a2a2a" stroke-width="1.8"/>
<line x1="25" y1="954.2" x2="740" y2="954.2" stroke="#2a2a2a" stroke-width="1.6"/>
<line x1="25" y1="968" x2="640" y2="968" stroke="#2a2a2a" stroke-width="1.7"/>
<line x1="687.8" y1="968" x2="740" y2="968" stroke="#2a2a2a" stroke-width="1.7"/>
<line x1="25" y1="981.7" x2="640" y2="981.7" stroke="#2a2a2a" stroke-width="1.7"/>
<line x1="687.8" y1="981.7" x2="740" y2="981.7" stroke="#2a2a2a" stroke-width="1.7"/>
<line x1="25" y1="995.4" x2="640" y2="995.4" stroke="#2a2a2a" stroke-width="1.7"/>
<line x1="687.8" y1="995.4" x2="740" y2="995.4" stroke="#2a2a2a" stroke-width="1.7"/>
<line x1="25" y1="1009" x2="740" y2="1009" stroke="#2a2a2a" stroke-width="2.1"/>
<text x="57" y="964.9" font-size="11" text-anchor="middle" font-weight="bold" stroke="#1a1a1a" stroke-width="0.3" fill="#1a1a1a">20</text>
<text x="120.25" y="964.9" font-size="10.2" text-anchor="middle" font-weight="normal" stroke="#1a1a1a" stroke-width="0.3" fill="#1a1a1a">Up to 200</text>
<text x="163.25" y="964.9" font-size="10.2" text-anchor="middle" font-weight="normal" stroke="#1a1a1a" stroke-width="0.3" fill="#1a1a1a">5</text>
<text x="186.75" y="964.9" font-size="10.2" text-anchor="middle" font-weight="normal" stroke="#1a1a1a" stroke-width="0.3" fill="#1a1a1a">24</text>
<text x="210.5" y="964.9" font-size="10.2" text-anchor="middle" font-weight="normal" stroke="#1a1a1a" stroke-width="0.3" fill="#1a1a1a"><tspan font-size="8.5" dy="-1">1</tspan><tspan font-size="10" dy="1">/</tspan><tspan font-size="7.5" dy="2">8</tspan></text>
<text x="234.25" y="964.9" font-size="10.2" text-anchor="middle" font-weight="normal" stroke="#1a1a1a" stroke-width="0.3" fill="#1a1a1a">33</text>
<text x="258" y="964.9" font-size="10.2" text-anchor="middle" font-weight="normal" textLength="15.6" lengthAdjust="spacingAndGlyphs" stroke="#1a1a1a" stroke-width="0.3" fill="#1a1a1a">19.5</text>
<text x="281.5" y="964.9" font-size="10.2" text-anchor="middle" font-weight="normal" stroke="#1a1a1a" stroke-width="0.3" fill="#1a1a1a">20</text>
<text x="304.5" y="964.9" font-size="10.2" text-anchor="middle" font-weight="normal" stroke="#1a1a1a" stroke-width="0.3" fill="#1a1a1a">38</text>
<text x="327.75" y="964.9" font-size="10.2" text-anchor="middle" font-weight="normal" stroke="#1a1a1a" stroke-width="0.3" fill="#1a1a1a">141</text>
<text x="351.25" y="964.9" font-size="10.2" text-anchor="middle" font-weight="normal" stroke="#1a1a1a" stroke-width="0.3" fill="#1a1a1a">11</text>
<text x="375" y="964.9" font-size="10.2" text-anchor="middle" font-weight="normal" stroke="#1a1a1a" stroke-width="0.3" fill="#1a1a1a">11</text>
<text x="414.85" y="964.9" font-size="10.2" text-anchor="middle" font-weight="normal" stroke="#1a1a1a" stroke-width="0.3" fill="#1a1a1a">M5 x 0.8</text>
<text x="454" y="964.9" font-size="10.2" text-anchor="middle" font-weight="normal" stroke="#1a1a1a" stroke-width="0.3" fill="#1a1a1a">35</text>
<text x="477.3" y="964.9" font-size="10.2" text-anchor="middle" font-weight="normal" stroke="#1a1a1a" stroke-width="0.3" fill="#1a1a1a">178</text>
<text x="498.4" y="964.9" font-size="10.2" text-anchor="middle" font-weight="normal" stroke="#1a1a1a" stroke-width="0.3" fill="#1a1a1a">27</text>
<text x="525.85" y="964.9" font-size="10.2" text-anchor="middle" font-weight="normal" stroke="#1a1a1a" stroke-width="0.3" fill="#1a1a1a">15.5</text>
<text x="563.1" y="964.9" font-size="10.2" text-anchor="middle" font-weight="normal" stroke="#1a1a1a" stroke-width="0.3" fill="#1a1a1a">10.5</text>
<text x="591.4" y="964.9" font-size="10.2" text-anchor="middle" font-weight="normal" stroke="#1a1a1a" stroke-width="0.3" fill="#1a1a1a">30</text>
<text x="610.6" y="964.9" font-size="10.2" text-anchor="middle" font-weight="normal" stroke="#1a1a1a" stroke-width="0.3" fill="#1a1a1a">18</text>
<text x="630.2" y="964.9" font-size="10.2" text-anchor="middle" font-weight="normal" stroke="#1a1a1a" stroke-width="0.3" fill="#1a1a1a">55</text>
<text x="713.9" y="964.9" font-size="10.2" text-anchor="middle" font-weight="normal" textLength="39.5" lengthAdjust="spacingAndGlyphs" stroke="#1a1a1a" stroke-width="0.3" fill="#1a1a1a">198 (206)</text>
<text x="57" y="978.65" font-size="11" text-anchor="middle" font-weight="bold" stroke="#1a1a1a" stroke-width="0.3" fill="#1a1a1a">25</text>
<text x="120.25" y="978.65" font-size="10.2" text-anchor="middle" font-weight="normal" stroke="#1a1a1a" stroke-width="0.3" fill="#1a1a1a">Up to 300</text>
<text x="163.25" y="978.65" font-size="10.2" text-anchor="middle" font-weight="normal" stroke="#1a1a1a" stroke-width="0.3" fill="#1a1a1a">6</text>
<text x="186.75" y="978.65" font-size="10.2" text-anchor="middle" font-weight="normal" stroke="#1a1a1a" stroke-width="0.3" fill="#1a1a1a">29</text>
<text x="210.5" y="978.65" font-size="10.2" text-anchor="middle" font-weight="normal" stroke="#1a1a1a" stroke-width="0.3" fill="#1a1a1a"><tspan font-size="8.5" dy="-1">1</tspan><tspan font-size="10" dy="1">/</tspan><tspan font-size="7.5" dy="2">8</tspan></text>
<text x="234.25" y="978.65" font-size="10.2" text-anchor="middle" font-weight="normal" stroke="#1a1a1a" stroke-width="0.3" fill="#1a1a1a">38</text>
<text x="258" y="978.65" font-size="10.2" text-anchor="middle" font-weight="normal" stroke="#1a1a1a" stroke-width="0.3" fill="#1a1a1a">24</text>
<text x="281.5" y="978.65" font-size="10.2" text-anchor="middle" font-weight="normal" stroke="#1a1a1a" stroke-width="0.3" fill="#1a1a1a">24</text>
<text x="304.5" y="978.65" font-size="10.2" text-anchor="middle" font-weight="normal" stroke="#1a1a1a" stroke-width="0.3" fill="#1a1a1a">41</text>
<text x="327.75" y="978.65" font-size="10.2" text-anchor="middle" font-weight="normal" stroke="#1a1a1a" stroke-width="0.3" fill="#1a1a1a">151</text>
<text x="351.25" y="978.65" font-size="10.2" text-anchor="middle" font-weight="normal" stroke="#1a1a1a" stroke-width="0.3" fill="#1a1a1a">11</text>
<text x="375" y="978.65" font-size="10.2" text-anchor="middle" font-weight="normal" stroke="#1a1a1a" stroke-width="0.3" fill="#1a1a1a">11</text>
<text x="414.85" y="978.65" font-size="10.2" text-anchor="middle" font-weight="normal" stroke="#1a1a1a" stroke-width="0.3" fill="#1a1a1a">M6 x 0.75</text>
<text x="454" y="978.65" font-size="10.2" text-anchor="middle" font-weight="normal" stroke="#1a1a1a" stroke-width="0.3" fill="#1a1a1a">40</text>
<text x="477.3" y="978.65" font-size="10.2" text-anchor="middle" font-weight="normal" stroke="#1a1a1a" stroke-width="0.3" fill="#1a1a1a">193</text>
<text x="498.4" y="978.65" font-size="10.2" text-anchor="middle" font-weight="normal" stroke="#1a1a1a" stroke-width="0.3" fill="#1a1a1a">32</text>
<text x="525.85" y="978.65" font-size="10.2" text-anchor="middle" font-weight="normal" stroke="#1a1a1a" stroke-width="0.3" fill="#1a1a1a">16.5</text>
<text x="563.1" y="978.65" font-size="10.2" text-anchor="middle" font-weight="normal" stroke="#1a1a1a" stroke-width="0.3" fill="#1a1a1a">10.5</text>
<text x="591.4" y="978.65" font-size="10.2" text-anchor="middle" font-weight="normal" stroke="#1a1a1a" stroke-width="0.3" fill="#1a1a1a">30</text>
<text x="610.6" y="978.65" font-size="10.2" text-anchor="middle" font-weight="normal" stroke="#1a1a1a" stroke-width="0.3" fill="#1a1a1a">19</text>
<text x="630.2" y="978.65" font-size="10.2" text-anchor="middle" font-weight="normal" stroke="#1a1a1a" stroke-width="0.3" fill="#1a1a1a">62</text>
<text x="713.9" y="978.65" font-size="10.2" text-anchor="middle" font-weight="normal" textLength="39.5" lengthAdjust="spacingAndGlyphs" stroke="#1a1a1a" stroke-width="0.3" fill="#1a1a1a">215 (223)</text>
<text x="57" y="992.35" font-size="11" text-anchor="middle" font-weight="bold" stroke="#1a1a1a" stroke-width="0.3" fill="#1a1a1a">32</text>
<text x="120.25" y="992.35" font-size="10.2" text-anchor="middle" font-weight="normal" stroke="#1a1a1a" stroke-width="0.3" fill="#1a1a1a">Up to 300</text>
<text x="163.25" y="992.35" font-size="10.2" text-anchor="middle" font-weight="normal" stroke="#1a1a1a" stroke-width="0.3" fill="#1a1a1a">6</text>
<text x="186.75" y="992.35" font-size="10.2" text-anchor="middle" font-weight="normal" textLength="15.6" lengthAdjust="spacingAndGlyphs" stroke="#1a1a1a" stroke-width="0.3" fill="#1a1a1a">35.5</text>
<text x="210.5" y="992.35" font-size="10.2" text-anchor="middle" font-weight="normal" stroke="#1a1a1a" stroke-width="0.3" fill="#1a1a1a"><tspan font-size="8.5" dy="-1">1</tspan><tspan font-size="10" dy="1">/</tspan><tspan font-size="7.5" dy="2">8</tspan></text>
<text x="234.25" y="992.35" font-size="10.2" text-anchor="middle" font-weight="normal" stroke="#1a1a1a" stroke-width="0.3" fill="#1a1a1a">39</text>
<text x="258" y="992.35" font-size="10.2" text-anchor="middle" font-weight="normal" stroke="#1a1a1a" stroke-width="0.3" fill="#1a1a1a">24</text>
<text x="281.5" y="992.35" font-size="10.2" text-anchor="middle" font-weight="normal" stroke="#1a1a1a" stroke-width="0.3" fill="#1a1a1a">24</text>
<text x="304.5" y="992.35" font-size="10.2" text-anchor="middle" font-weight="normal" stroke="#1a1a1a" stroke-width="0.3" fill="#1a1a1a">41</text>
<text x="327.75" y="992.35" font-size="10.2" text-anchor="middle" font-weight="normal" stroke="#1a1a1a" stroke-width="0.3" fill="#1a1a1a">154</text>
<text x="351.25" y="992.35" font-size="10.2" text-anchor="middle" font-weight="normal" stroke="#1a1a1a" stroke-width="0.3" fill="#1a1a1a">11</text>
<text x="375" y="992.35" font-size="10.2" text-anchor="middle" font-weight="normal" stroke="#1a1a1a" stroke-width="0.3" fill="#1a1a1a">10</text>
<text x="414.85" y="992.35" font-size="10.2" text-anchor="middle" font-weight="normal" stroke="#1a1a1a" stroke-width="0.3" fill="#1a1a1a">M8 x 1</text>
<text x="454" y="992.35" font-size="10.2" text-anchor="middle" font-weight="normal" stroke="#1a1a1a" stroke-width="0.3" fill="#1a1a1a">40</text>
<text x="477.3" y="992.35" font-size="10.2" text-anchor="middle" font-weight="normal" stroke="#1a1a1a" stroke-width="0.3" fill="#1a1a1a">196</text>
<text x="498.4" y="992.35" font-size="10.2" text-anchor="middle" font-weight="normal" stroke="#1a1a1a" stroke-width="0.3" fill="#1a1a1a">38</text>
<text x="525.85" y="992.35" font-size="10.2" text-anchor="middle" font-weight="normal" stroke="#1a1a1a" stroke-width="0.3" fill="#1a1a1a">18.5</text>
<text x="563.1" y="992.35" font-size="10.2" text-anchor="middle" font-weight="normal" stroke="#1a1a1a" stroke-width="0.3" fill="#1a1a1a">10.5</text>
<text x="591.4" y="992.35" font-size="10.2" text-anchor="middle" font-weight="normal" stroke="#1a1a1a" stroke-width="0.3" fill="#1a1a1a">35</text>
<text x="610.6" y="992.35" font-size="10.2" text-anchor="middle" font-weight="normal" stroke="#1a1a1a" stroke-width="0.3" fill="#1a1a1a">19</text>
<text x="630.2" y="992.35" font-size="10.2" text-anchor="middle" font-weight="normal" stroke="#1a1a1a" stroke-width="0.3" fill="#1a1a1a">62</text>
<text x="713.9" y="992.35" font-size="10.2" text-anchor="middle" font-weight="normal" textLength="39.5" lengthAdjust="spacingAndGlyphs" stroke="#1a1a1a" stroke-width="0.3" fill="#1a1a1a">218 (226)</text>
<text x="57" y="1006" font-size="11" text-anchor="middle" font-weight="bold" stroke="#1a1a1a" stroke-width="0.3" fill="#1a1a1a">40</text>
<text x="120.25" y="1006" font-size="10.2" text-anchor="middle" font-weight="normal" stroke="#1a1a1a" stroke-width="0.3" fill="#1a1a1a">Up to 300</text>
<text x="163.25" y="1006" font-size="10.2" text-anchor="middle" font-weight="normal" stroke="#1a1a1a" stroke-width="0.3" fill="#1a1a1a">8</text>
<text x="186.75" y="1006" font-size="10.2" text-anchor="middle" font-weight="normal" stroke="#1a1a1a" stroke-width="0.3" fill="#1a1a1a">44</text>
<text x="210.5" y="1006" font-size="10.2" text-anchor="middle" font-weight="normal" stroke="#1a1a1a" stroke-width="0.3" fill="#1a1a1a"><tspan font-size="8.5" dy="-1">1</tspan><tspan font-size="10" dy="1">/</tspan><tspan font-size="7.5" dy="2">8</tspan></text>
<text x="234.25" y="1006" font-size="10.2" text-anchor="middle" font-weight="normal" stroke="#1a1a1a" stroke-width="0.3" fill="#1a1a1a">44</text>
<text x="258" y="1006" font-size="10.2" text-anchor="middle" font-weight="normal" stroke="#1a1a1a" stroke-width="0.3" fill="#1a1a1a">24</text>
<text x="281.5" y="1006" font-size="10.2" text-anchor="middle" font-weight="normal" stroke="#1a1a1a" stroke-width="0.3" fill="#1a1a1a">24</text>
<text x="304.5" y="1006" font-size="10.2" text-anchor="middle" font-weight="normal" stroke="#1a1a1a" stroke-width="0.3" fill="#1a1a1a">41</text>
<text x="327.75" y="1006" font-size="10.2" text-anchor="middle" font-weight="normal" stroke="#1a1a1a" stroke-width="0.3" fill="#1a1a1a">169</text>
<text x="351.25" y="1006" font-size="10.2" text-anchor="middle" font-weight="normal" stroke="#1a1a1a" stroke-width="0.3" fill="#1a1a1a">12</text>
<text x="375" y="1006" font-size="10.2" text-anchor="middle" font-weight="normal" stroke="#1a1a1a" stroke-width="0.3" fill="#1a1a1a">10</text>
<text x="414.85" y="1006" font-size="10" text-anchor="middle" font-weight="normal" textLength="45" lengthAdjust="spacingAndGlyphs" stroke="#1a1a1a" stroke-width="0.3" fill="#1a1a1a">M10 x 1.25</text>
<text x="454" y="1006" font-size="10.2" text-anchor="middle" font-weight="normal" stroke="#1a1a1a" stroke-width="0.3" fill="#1a1a1a">50</text>
<text x="477.3" y="1006" font-size="10.2" text-anchor="middle" font-weight="normal" stroke="#1a1a1a" stroke-width="0.3" fill="#1a1a1a">221</text>
<text x="498.4" y="1006" font-size="10.2" text-anchor="middle" font-weight="normal" stroke="#1a1a1a" stroke-width="0.3" fill="#1a1a1a">48</text>
<text x="525.85" y="1006" font-size="10.2" text-anchor="middle" font-weight="normal" stroke="#1a1a1a" stroke-width="0.3" fill="#1a1a1a">21.5</text>
<text x="563.1" y="1006" font-size="10.2" text-anchor="middle" font-weight="normal" stroke="#1a1a1a" stroke-width="0.3" fill="#1a1a1a">10.5</text>
<text x="591.4" y="1006" font-size="10.2" text-anchor="middle" font-weight="normal" stroke="#1a1a1a" stroke-width="0.3" fill="#1a1a1a">35</text>
<text x="610.6" y="1006" font-size="10.2" text-anchor="middle" font-weight="normal" stroke="#1a1a1a" stroke-width="0.3" fill="#1a1a1a">19</text>
<text x="630.2" y="1006" font-size="10.2" text-anchor="middle" font-weight="normal" stroke="#1a1a1a" stroke-width="0.3" fill="#1a1a1a">70</text>
<text x="713.9" y="1006" font-size="10.2" text-anchor="middle" font-weight="normal" textLength="39.5" lengthAdjust="spacingAndGlyphs" stroke="#1a1a1a" stroke-width="0.3" fill="#1a1a1a">241 (250)</text>
<circle cx="41.3" cy="1025.3" r="11.6" fill="none" stroke="#111" stroke-width="2.3"/>
<path d="M33.3,1034 L28.5,1040.5" fill="none" stroke="#111" stroke-width="3.6"/>
<circle cx="28.3" cy="1040.7" r="1.9" fill="#111" stroke="#111" stroke-width="0"/>
<path d="M48,1022 A7,7 0 0 1 43.5,1031.5" fill="none" stroke="#111" stroke-width="1"/>
<text x="65" y="1026.8" font-size="11" text-anchor="start" font-weight="bold" stroke="#1a1a1a" stroke-width="0.4" fill="#1a1a1a">*</text>
<text x="72.8" y="1024.6" font-size="10" text-anchor="start" font-weight="normal" textLength="152.7" lengthAdjust="spacingAndGlyphs" stroke="#1a1a1a" stroke-width="0.3" fill="#1a1a1a">For long stroke refer to page 630.</text>
<text x="60.5" y="1039.3" font-size="11" text-anchor="start" font-weight="bold" textLength="9.5" lengthAdjust="spacingAndGlyphs" stroke="#1a1a1a" stroke-width="0.4" fill="#1a1a1a">**</text>
<text x="72.8" y="1037" font-size="10" text-anchor="start" font-weight="normal" textLength="270" lengthAdjust="spacingAndGlyphs" stroke="#1a1a1a" stroke-width="0.3" fill="#1a1a1a">The minimum stroke for cylinders with a rod boot is 20 mm.</text>
<text x="176" y="134.6" font-size="9.3" text-anchor="start" font-weight="normal" textLength="122" lengthAdjust="spacingAndGlyphs" stroke="#1a1a1a" stroke-width="0.08" fill="#1a1a1a">1/8 (Rc, NPT) unlocking port</text>
<line x1="175" y1="137.2" x2="299" y2="137.2" stroke="#1a1a1a" stroke-width="0.83"/>
<text x="179" y="147" font-size="9.3" text-anchor="start" font-weight="normal" textLength="118.6" lengthAdjust="spacingAndGlyphs" stroke="#1a1a1a" stroke-width="0.08" fill="#1a1a1a">Unlocked when pressurized</text>
<line x1="178.5" y1="149.2" x2="309.7" y2="149.2" stroke="#1a1a1a" stroke-width="0.83"/>
<line x1="309.7" y1="149.2" x2="357.5" y2="191" stroke="#1a1a1a" stroke-width="0.83"/>
<line x1="328" y1="137.3" x2="488" y2="137.3" stroke="#1a1a1a" stroke-width="0.95"/>
<polygon points="328,137.3 332.2,135.9 332.2,138.7" fill="#1a1a1a"/>
<polygon points="488,137.3 483.8,135.9 483.8,138.7" fill="#1a1a1a"/>
<text x="407" y="134.6" font-size="9.3" text-anchor="middle" font-weight="normal" stroke="#1a1a1a" stroke-width="0.08" fill="#1a1a1a">GA</text>
<line x1="328" y1="148.8" x2="363.5" y2="148.8" stroke="#1a1a1a" stroke-width="0.95"/>
<polygon points="328,148.8 332.2,147.4 332.2,150.2" fill="#1a1a1a"/>
<polygon points="363.5,148.8 359.3,147.4 359.3,150.2" fill="#1a1a1a"/>
<line x1="363.5" y1="148.8" x2="468" y2="148.8" stroke="#1a1a1a" stroke-width="0.95"/>
<polygon points="363.5,148.8 367.7,147.4 367.7,150.2" fill="#1a1a1a"/>
<polygon points="468,148.8 463.8,147.4 463.8,150.2" fill="#1a1a1a"/>
<text x="345.3" y="146.5" font-size="9.3" text-anchor="middle" font-weight="normal" stroke="#1a1a1a" stroke-width="0.08" fill="#1a1a1a">GC</text>
<text x="413.3" y="146.5" font-size="9.3" text-anchor="middle" font-weight="normal" stroke="#1a1a1a" stroke-width="0.08" fill="#1a1a1a">GD</text>
<line x1="328" y1="133" x2="328" y2="174" stroke="#1a1a1a" stroke-width="0.72"/>
<line x1="488" y1="133" x2="488" y2="174" stroke="#1a1a1a" stroke-width="0.72"/>
<line x1="363.5" y1="145" x2="363.5" y2="207" stroke="#1a1a1a" stroke-width="0.72"/>
<line x1="468" y1="145" x2="468" y2="235" stroke="#1a1a1a" stroke-width="0.72"/>
<line x1="203" y1="198.7" x2="375" y2="199" stroke="#1a1a1a" stroke-width="0.83"/>
<line x1="477" y1="199.1" x2="588" y2="199.2" stroke="#1a1a1a" stroke-width="0.83"/>
<line x1="203" y1="210.4" x2="588" y2="210.6" stroke="#1a1a1a" stroke-width="0.83" stroke-dasharray="30 2 3 2"/>
<line x1="385" y1="216.6" x2="452" y2="216.6" stroke="#1a1a1a" stroke-width="0.72"/>
<line x1="453.7" y1="225.1" x2="588" y2="225.1" stroke="#1a1a1a" stroke-width="0.83"/>
<line x1="511" y1="225.1" x2="527" y2="225.1" stroke="#1a1a1a" stroke-width="1.84"/>
<line x1="207.6" y1="192" x2="207.6" y2="217" stroke="#1a1a1a" stroke-width="0.83"/>
<polygon points="207.6,198.7 206.2,194.5 209,194.5" fill="#1a1a1a"/>
<polygon points="207.6,210.4 206.2,214.6 209,214.6" fill="#1a1a1a"/>
<text x="205" y="205" font-size="9.3" text-anchor="middle" font-weight="normal" transform="rotate(-90 205 205)" stroke="#1a1a1a" stroke-width="0.08" fill="#1a1a1a">GQ</text>
<rect x="261.4" y="202" width="9.6" height="17" fill="none" stroke="#1a1a1a" stroke-width="1.1"/>
<line x1="263" y1="204.5" x2="263" y2="216.5" stroke="#1a1a1a" stroke-width="0.61"/>
<rect x="271" y="191.6" width="13" height="37" fill="none" stroke="#1a1a1a" stroke-width="1.1" rx="3"/>
<line x1="271" y1="200" x2="284" y2="200" stroke="#1a1a1a" stroke-width="0.72"/>
<line x1="271" y1="220" x2="284" y2="220" stroke="#1a1a1a" stroke-width="0.72"/>
<line x1="284" y1="200.3" x2="310" y2="200.3" stroke="#1a1a1a" stroke-width="1.17"/>
<line x1="310" y1="200.3" x2="316" y2="198.5" stroke="#1a1a1a" stroke-width="0.95"/>
<line x1="316" y1="198.5" x2="324" y2="198.5" stroke="#1a1a1a" stroke-width="1.17"/>
<line x1="284" y1="220.5" x2="310" y2="220.5" stroke="#1a1a1a" stroke-width="1.17"/>
<line x1="310" y1="220.5" x2="316" y2="222" stroke="#1a1a1a" stroke-width="0.95"/>
<line x1="316" y1="222" x2="324" y2="222" stroke="#1a1a1a" stroke-width="1.17"/>
<line x1="293" y1="201" x2="293" y2="220" stroke="#1a1a1a" stroke-width="0.72"/>
<line x1="296" y1="201" x2="296" y2="220" stroke="#1a1a1a" stroke-width="0.72"/>
<line x1="299" y1="201" x2="299" y2="220" stroke="#1a1a1a" stroke-width="0.72"/>
<rect x="324" y="195.6" width="4" height="30" fill="none" stroke="#1a1a1a" stroke-width="1"/>
<rect x="328" y="174.2" width="170.5" height="71.8" fill="none" stroke="#1a1a1a" stroke-width="1.3"/>
<line x1="328" y1="178.3" x2="498.5" y2="178.3" stroke="#1a1a1a" stroke-width="0.83"/>
<line x1="328" y1="242.4" x2="498.5" y2="242.4" stroke="#1a1a1a" stroke-width="0.83"/>
<line x1="375" y1="178.3" x2="375" y2="242.4" stroke="#1a1a1a" stroke-width="0.95"/>
<line x1="456" y1="178.3" x2="456" y2="242.4" stroke="#1a1a1a" stroke-width="0.95"/>
<rect x="392.7" y="177.6" width="41.1" height="65.6" fill="none" stroke="#1a1a1a" stroke-width="1"/>
<line x1="395" y1="178.5" x2="395" y2="242.5" stroke="#1a1a1a" stroke-width="0.61"/>
<line x1="432.2" y1="178.5" x2="432.2" y2="242.5" stroke="#1a1a1a" stroke-width="0.61"/>
<line x1="410.4" y1="168" x2="410.4" y2="250" stroke="#1a1a1a" stroke-width="0.61" stroke-dasharray="9 2 2 2"/>
<circle cx="410.4" cy="216.4" r="16.8" fill="none" stroke="#1a1a1a" stroke-width="1"/>
<circle cx="410.4" cy="216.4" r="15.2" fill="none" stroke="#1a1a1a" stroke-width="0.8"/>
<circle cx="410.4" cy="216.4" r="8.4" fill="none" stroke="#1a1a1a" stroke-width="1.3"/>
<circle cx="410.4" cy="216.4" r="6" fill="none" stroke="#1a1a1a" stroke-width="0.6"/>
<circle cx="410.4" cy="182.4" r="6.2" fill="none" stroke="#1a1a1a" stroke-width="2"/>
<circle cx="410.4" cy="182.4" r="3.2" fill="none" stroke="#1a1a1a" stroke-width="0.7"/>
<line x1="403" y1="182.4" x2="417.8" y2="182.4" stroke="#1a1a1a" stroke-width="0.61"/>
<polygon points="416.6,237.6 413.5,242.97 407.3,242.97 404.2,237.6 407.3,232.23 413.5,232.23" fill="none" stroke="#1a1a1a" stroke-width="1.6"/>
<circle cx="410.4" cy="237.6" r="3.2" fill="none" stroke="#1a1a1a" stroke-width="0.7"/>
<text x="431.2" y="216" font-size="5.6" text-anchor="middle" font-weight="normal" transform="rotate(-90 431.2 216)" textLength="48" lengthAdjust="spacingAndGlyphs" stroke="#1a1a1a" stroke-width="0.1" fill="#1a1a1a">JXL   5001</text>
<line x1="430" y1="190" x2="430" y2="200" stroke="#1a1a1a" stroke-width="0.61"/>
<text x="446.2" y="200.3" font-size="9.3" text-anchor="middle" font-weight="normal" transform="rotate(-90 446.2 200.3)" stroke="#1a1a1a" stroke-width="0.08" fill="#1a1a1a">GK</text>
<line x1="450" y1="193.8" x2="450" y2="221" stroke="#1a1a1a" stroke-width="0.83"/>
<polygon points="450,210.4 448.6,206.2 451.4,206.2" fill="#1a1a1a"/>
<polygon points="450,216.6 448.6,220.8 451.4,220.8" fill="#1a1a1a"/>
<circle cx="363.3" cy="198.8" r="8" fill="none" stroke="#1a1a1a" stroke-width="1.2"/>
<line x1="363.3" y1="188" x2="363.3" y2="209" stroke="#1a1a1a" stroke-width="0.61"/>
<circle cx="467.7" cy="225.1" r="7.6" fill="none" stroke="#1a1a1a" stroke-width="1.2"/>
<circle cx="487.8" cy="199.1" r="7.6" fill="none" stroke="#1a1a1a" stroke-width="1.2"/>
<line x1="487.8" y1="189" x2="487.8" y2="209" stroke="#1a1a1a" stroke-width="0.61"/>
<rect x="328.7" y="174.5" width="10.8" height="12.8" fill="none" stroke="#1a1a1a" stroke-width="1.3"/>
<rect x="330.5" y="176.5" width="7.2" height="8.8" fill="none" stroke="#1a1a1a" stroke-width="0.5"/>
<circle cx="334.1" cy="180.9" r="1.8" fill="none" stroke="#1a1a1a" stroke-width="0.7"/>
<rect x="328.7" y="232.8" width="10.8" height="12.8" fill="none" stroke="#1a1a1a" stroke-width="1.3"/>
<rect x="330.5" y="234.8" width="7.2" height="8.8" fill="none" stroke="#1a1a1a" stroke-width="0.5"/>
<circle cx="334.1" cy="239.2" r="1.8" fill="none" stroke="#1a1a1a" stroke-width="0.7"/>
<rect x="487.7" y="174.5" width="10.8" height="12.8" fill="none" stroke="#1a1a1a" stroke-width="1.3"/>
<rect x="489.5" y="176.5" width="7.2" height="8.8" fill="none" stroke="#1a1a1a" stroke-width="0.5"/>
<circle cx="493.1" cy="180.9" r="1.8" fill="none" stroke="#1a1a1a" stroke-width="0.7"/>
<rect x="487.7" y="233" width="10.8" height="12.8" fill="none" stroke="#1a1a1a" stroke-width="1.3"/>
<rect x="489.5" y="235" width="7.2" height="8.8" fill="none" stroke="#1a1a1a" stroke-width="0.5"/>
<circle cx="493.1" cy="239.4" r="1.8" fill="none" stroke="#1a1a1a" stroke-width="0.7"/>
<text x="505.8" y="124" font-size="9.3" text-anchor="start" font-weight="normal" textLength="171.6" lengthAdjust="spacingAndGlyphs" stroke="#1a1a1a" stroke-width="0.08" fill="#1a1a1a">1/8 (Rc, NPT) lock port for pressure lock</text>
<line x1="503.8" y1="126.8" x2="678.8" y2="126.8" stroke="#1a1a1a" stroke-width="0.83"/>
<text x="505.8" y="135.2" font-size="9.3" text-anchor="start" font-weight="normal" textLength="171.6" lengthAdjust="spacingAndGlyphs" stroke="#1a1a1a" stroke-width="0.08" fill="#1a1a1a">(Plug with breathing hole for spring lock)</text>
<line x1="501.8" y1="138" x2="678.8" y2="138" stroke="#1a1a1a" stroke-width="0.83"/>
<line x1="501.8" y1="138" x2="471" y2="215" stroke="#1a1a1a" stroke-width="0.83"/>
<text x="519.2" y="147.8" font-size="9.5" text-anchor="start" font-weight="bold" stroke="#1a1a1a" stroke-width="0.08" fill="#1a1a1a">P</text>
<text x="527.6" y="147.8" font-size="7.8" text-anchor="start" font-weight="normal" textLength="36.4" lengthAdjust="spacingAndGlyphs" stroke="#1a1a1a" stroke-width="0.08" fill="#1a1a1a">(Rc, NPT)</text>
<text x="517.8" y="157" font-size="9.3" text-anchor="start" font-weight="normal" textLength="93.8" lengthAdjust="spacingAndGlyphs" stroke="#1a1a1a" stroke-width="0.08" fill="#1a1a1a">Rod side cylinder port</text>
<line x1="515" y1="159.8" x2="611.6" y2="159.8" stroke="#1a1a1a" stroke-width="0.83"/>
<line x1="515" y1="159.8" x2="492" y2="191.5" stroke="#1a1a1a" stroke-width="0.83"/>
<line x1="498.7" y1="179.6" x2="534" y2="179.6" stroke="#1a1a1a" stroke-width="1.06"/>
<line x1="498.7" y1="241.6" x2="547" y2="241.6" stroke="#1a1a1a" stroke-width="1.06"/>
<path d="M534,179.6 L538,195 L542,215 L547,241.6" fill="none" stroke="#1a1a1a" stroke-width="0.9"/>
<line x1="587.3" y1="186" x2="587.3" y2="239" stroke="#1a1a1a" stroke-width="0.83"/>
<polygon points="587.3,199.2 585.9,195 588.7,195" fill="#1a1a1a"/>
<polygon points="587.3,210.8 585.9,215 588.7,215" fill="#1a1a1a"/>
<polygon points="587.3,225 585.9,229.2 588.7,229.2" fill="#1a1a1a"/>
<text x="584.5" y="190" font-size="9.3" text-anchor="middle" font-weight="normal" transform="rotate(-90 584.5 190)" stroke="#1a1a1a" stroke-width="0.08" fill="#1a1a1a">GR</text>
<text x="584.5" y="233.7" font-size="9.3" text-anchor="middle" font-weight="normal" transform="rotate(-90 584.5 233.7)" stroke="#1a1a1a" stroke-width="0.08" fill="#1a1a1a">GL</text>
<line x1="328" y1="245" x2="328" y2="279" stroke="#1a1a1a" stroke-width="0.72"/>
<line x1="393.3" y1="245" x2="393.3" y2="279" stroke="#1a1a1a" stroke-width="0.72"/>
<line x1="434.7" y1="245" x2="434.7" y2="279" stroke="#1a1a1a" stroke-width="0.72"/>
<line x1="328" y1="276" x2="393.3" y2="276" stroke="#1a1a1a" stroke-width="0.95"/>
<polygon points="328,276 332.2,274.6 332.2,277.4" fill="#1a1a1a"/>
<polygon points="393.3,276 389.1,274.6 389.1,277.4" fill="#1a1a1a"/>
<line x1="393.3" y1="276" x2="434.7" y2="276" stroke="#1a1a1a" stroke-width="0.95"/>
<polygon points="393.3,276 397.5,274.6 397.5,277.4" fill="#1a1a1a"/>
<polygon points="434.7,276 430.5,274.6 430.5,277.4" fill="#1a1a1a"/>
<text x="360.5" y="274" font-size="9.3" text-anchor="middle" font-weight="normal" stroke="#1a1a1a" stroke-width="0.08" fill="#1a1a1a">PG</text>
<text x="413.8" y="274" font-size="9.3" text-anchor="middle" font-weight="normal" stroke="#1a1a1a" stroke-width="0.08" fill="#1a1a1a">PL</text>
<line x1="59.7" y1="283.4" x2="125.6" y2="283.4" stroke="#1a1a1a" stroke-width="0.95"/>
<polygon points="59.7,283.4 63.9,282 63.9,284.8" fill="#1a1a1a"/>
<polygon points="125.6,283.4 121.4,282 121.4,284.8" fill="#1a1a1a"/>
<text x="92.8" y="281" font-size="9.3" text-anchor="middle" font-weight="normal" stroke="#1a1a1a" stroke-width="0.08" fill="#1a1a1a">PW</text>
<line x1="59.7" y1="279" x2="59.7" y2="357" stroke="#1a1a1a" stroke-width="0.72"/>
<line x1="125.6" y1="279" x2="125.6" y2="357" stroke="#1a1a1a" stroke-width="0.72"/>
<text x="130.8" y="279" font-size="9.3" text-anchor="start" font-weight="normal" textLength="96.2" lengthAdjust="spacingAndGlyphs" stroke="#1a1a1a" stroke-width="0.08" fill="#1a1a1a">Manual unlocking cam</text>
<line x1="131.7" y1="282.7" x2="228.8" y2="282.7" stroke="#1a1a1a" stroke-width="0.83"/>
<line x1="131.7" y1="282.7" x2="103.7" y2="334" stroke="#1a1a1a" stroke-width="0.83"/>
<text x="135.5" y="292" font-size="9.3" text-anchor="start" font-weight="normal" textLength="36.4" lengthAdjust="spacingAndGlyphs" stroke="#1a1a1a" stroke-width="0.08" fill="#1a1a1a">Lock nut</text>
<line x1="135.5" y1="294.2" x2="172.8" y2="294.2" stroke="#1a1a1a" stroke-width="0.83"/>
<line x1="135.5" y1="294.2" x2="107.5" y2="347" stroke="#1a1a1a" stroke-width="0.83"/>
<line x1="32.8" y1="332.2" x2="104.8" y2="332.2" stroke="#1a1a1a" stroke-width="0.72"/>
<line x1="33.8" y1="332.2" x2="33.8" y2="443" stroke="#1a1a1a" stroke-width="0.95"/>
<polygon points="33.8,332.2 32.4,336.4 35.2,336.4" fill="#1a1a1a"/>
<polygon points="33.8,443 32.4,438.8 35.2,438.8" fill="#1a1a1a"/>
<text x="31.2" y="388.3" font-size="9.3" text-anchor="middle" font-weight="normal" transform="rotate(-90 31.2 388.3)" stroke="#1a1a1a" stroke-width="0.08" fill="#1a1a1a">BZ</text>
<line x1="45.5" y1="332.2" x2="45.5" y2="370.6" stroke="#1a1a1a" stroke-width="0.95"/>
<polygon points="45.5,332.2 44.1,336.4 46.9,336.4" fill="#1a1a1a"/>
<polygon points="45.5,370.6 44.1,366.4 46.9,366.4" fill="#1a1a1a"/>
<line x1="45.5" y1="370.6" x2="45.5" y2="443" stroke="#1a1a1a" stroke-width="0.95"/>
<polygon points="45.5,370.6 44.1,374.8 46.9,374.8" fill="#1a1a1a"/>
<polygon points="45.5,443 44.1,438.8 46.9,438.8" fill="#1a1a1a"/>
<text x="43" y="350.8" font-size="9.3" text-anchor="middle" font-weight="normal" transform="rotate(-90 43 350.8)" stroke="#1a1a1a" stroke-width="0.08" fill="#1a1a1a">PH</text>
<text x="43" y="404.6" font-size="9.3" text-anchor="middle" font-weight="normal" transform="rotate(-90 43 404.6)" stroke="#1a1a1a" stroke-width="0.08" fill="#1a1a1a">BC</text>
<line x1="43" y1="370.6" x2="58" y2="370.6" stroke="#1a1a1a" stroke-width="0.72"/>
<line x1="31" y1="443" x2="58" y2="443" stroke="#1a1a1a" stroke-width="0.72"/>
<rect x="90.6" y="332.2" width="14.4" height="8" fill="none" stroke="#1a1a1a" stroke-width="0.9"/>
<line x1="97.5" y1="333" x2="99.5" y2="340" stroke="#1a1a1a" stroke-width="0.72"/>
<rect x="85.8" y="340.2" width="26.9" height="13.6" fill="none" stroke="#1a1a1a" stroke-width="1.1"/>
<line x1="92.2" y1="340.2" x2="92.2" y2="353.8" stroke="#1a1a1a" stroke-width="0.72"/>
<line x1="106" y1="340.2" x2="106" y2="353.8" stroke="#1a1a1a" stroke-width="0.72"/>
<rect x="82.6" y="353.6" width="33.6" height="4.2" fill="none" stroke="#1a1a1a" stroke-width="1"/>
<line x1="60.2" y1="357.8" x2="125.8" y2="357.8" stroke="#1a1a1a" stroke-width="1.06"/>
<line x1="60.2" y1="357.8" x2="59.3" y2="370.6" stroke="#1a1a1a" stroke-width="1.06"/>
<line x1="125.8" y1="357.8" x2="127.5" y2="370.6" stroke="#1a1a1a" stroke-width="1.06"/>
<line x1="65.8" y1="349" x2="65.8" y2="368" stroke="#1a1a1a" stroke-width="0.61"/>
<line x1="121" y1="349" x2="121" y2="368" stroke="#1a1a1a" stroke-width="0.61"/>
<line x1="92.2" y1="325" x2="92.2" y2="332" stroke="#1a1a1a" stroke-width="0.72"/>
<line x1="99.4" y1="325" x2="99.4" y2="332" stroke="#1a1a1a" stroke-width="0.72"/>
<line x1="94.4" y1="362" x2="94.4" y2="366" stroke="#1a1a1a" stroke-width="0.72"/>
<line x1="86" y1="363" x2="100" y2="363" stroke="#1a1a1a" stroke-width="0.72"/>
<polygon points="58.2,370.6 130.3,370.6 130.8,443 58.6,443" fill="none" stroke="#1a1a1a" stroke-width="1.2"/>
<line x1="50" y1="407.4" x2="140" y2="407.4" stroke="#1a1a1a" stroke-width="0.72" stroke-dasharray="9 2 2 2"/>
<line x1="93.8" y1="340" x2="94.6" y2="447" stroke="#1a1a1a" stroke-width="0.61" stroke-dasharray="9 2 2 2"/>
<circle cx="63.4" cy="377.3" r="6.3" fill="none" stroke="#1a1a1a" stroke-width="2.2"/>
<circle cx="63.4" cy="377.3" r="3.4" fill="none" stroke="#1a1a1a" stroke-width="0.9"/>
<line x1="55.1" y1="377.3" x2="71.7" y2="377.3" stroke="#1a1a1a" stroke-width="0.5"/>
<line x1="63.4" y1="369" x2="63.4" y2="385.6" stroke="#1a1a1a" stroke-width="0.5"/>
<circle cx="121.8" cy="377.3" r="6.3" fill="none" stroke="#1a1a1a" stroke-width="2.2"/>
<circle cx="121.8" cy="377.3" r="3.4" fill="none" stroke="#1a1a1a" stroke-width="0.9"/>
<line x1="113.5" y1="377.3" x2="130.1" y2="377.3" stroke="#1a1a1a" stroke-width="0.5"/>
<line x1="121.8" y1="369" x2="121.8" y2="385.6" stroke="#1a1a1a" stroke-width="0.5"/>
<circle cx="65.8" cy="436.3" r="6.3" fill="none" stroke="#1a1a1a" stroke-width="2.2"/>
<circle cx="65.8" cy="436.3" r="3.4" fill="none" stroke="#1a1a1a" stroke-width="0.9"/>
<line x1="57.5" y1="436.3" x2="74.1" y2="436.3" stroke="#1a1a1a" stroke-width="0.5"/>
<line x1="65.8" y1="428" x2="65.8" y2="444.6" stroke="#1a1a1a" stroke-width="0.5"/>
<circle cx="123.4" cy="436.3" r="6.3" fill="none" stroke="#1a1a1a" stroke-width="2.2"/>
<circle cx="123.4" cy="436.3" r="3.4" fill="none" stroke="#1a1a1a" stroke-width="0.9"/>
<line x1="115.1" y1="436.3" x2="131.7" y2="436.3" stroke="#1a1a1a" stroke-width="0.5"/>
<line x1="123.4" y1="428" x2="123.4" y2="444.6" stroke="#1a1a1a" stroke-width="0.5"/>
<circle cx="77.5" cy="389.8" r="4.5" fill="none" stroke="#1a1a1a" stroke-width="1.7"/>
<line x1="71.5" y1="389.8" x2="83.5" y2="389.8" stroke="#1a1a1a" stroke-width="0.61"/>
<line x1="77.5" y1="383.8" x2="77.5" y2="395.8" stroke="#1a1a1a" stroke-width="0.61"/>
<circle cx="109" cy="389.8" r="4.5" fill="none" stroke="#1a1a1a" stroke-width="1.7"/>
<line x1="103" y1="389.8" x2="115" y2="389.8" stroke="#1a1a1a" stroke-width="0.61"/>
<line x1="109" y1="383.8" x2="109" y2="395.8" stroke="#1a1a1a" stroke-width="0.61"/>
<circle cx="77.8" cy="423" r="4.5" fill="none" stroke="#1a1a1a" stroke-width="1.7"/>
<line x1="71.8" y1="423" x2="83.8" y2="423" stroke="#1a1a1a" stroke-width="0.61"/>
<line x1="77.8" y1="417" x2="77.8" y2="429" stroke="#1a1a1a" stroke-width="0.61"/>
<circle cx="109.8" cy="423" r="4.5" fill="none" stroke="#1a1a1a" stroke-width="1.7"/>
<line x1="103.8" y1="423" x2="115.8" y2="423" stroke="#1a1a1a" stroke-width="0.61"/>
<line x1="109.8" y1="417" x2="109.8" y2="429" stroke="#1a1a1a" stroke-width="0.61"/>
<polygon points="94.3,390.37 108.7,398.69 108.7,415.31 94.3,423.63 79.9,415.31 79.9,398.69" fill="none" stroke="#1a1a1a" stroke-width="1.1"/>
<circle cx="94.3" cy="407" r="9.5" fill="none" stroke="#1a1a1a" stroke-width="0.9"/>
<circle cx="94.3" cy="407" r="7.2" fill="none" stroke="#1a1a1a" stroke-width="2"/>
<circle cx="94.3" cy="407" r="5" fill="none" stroke="#1a1a1a" stroke-width="0.6"/>
<line x1="113" y1="390.3" x2="148.7" y2="390.3" stroke="#1a1a1a" stroke-width="1.06"/>
<line x1="113" y1="422.7" x2="148.7" y2="422.7" stroke="#1a1a1a" stroke-width="1.06"/>
<line x1="148" y1="390.3" x2="148" y2="422.7" stroke="#1a1a1a" stroke-width="0.95"/>
<polygon points="148,390.3 146.6,394.5 149.4,394.5" fill="#1a1a1a"/>
<polygon points="148,422.7 146.6,418.5 149.4,418.5" fill="#1a1a1a"/>
<text x="144.3" y="406.7" font-size="9.5" text-anchor="middle" font-weight="normal" transform="rotate(-90 144.3 406.7)" stroke="#1a1a1a" stroke-width="0.08" fill="#1a1a1a">C<tspan font-size="6" dx="1.5" dy="-2">±0.1</tspan></text>
<line x1="58.6" y1="443" x2="58.6" y2="499" stroke="#1a1a1a" stroke-width="0.72"/>
<line x1="79.4" y1="428" x2="79.4" y2="488" stroke="#1a1a1a" stroke-width="0.72"/>
<line x1="110.6" y1="428" x2="110.6" y2="488" stroke="#1a1a1a" stroke-width="0.72"/>
<line x1="88.2" y1="415" x2="88.2" y2="476" stroke="#1a1a1a" stroke-width="0.72"/>
<line x1="101.8" y1="415" x2="101.8" y2="476" stroke="#1a1a1a" stroke-width="0.72"/>
<line x1="131" y1="443" x2="131" y2="499" stroke="#1a1a1a" stroke-width="0.72"/>
<line x1="88.2" y1="474.2" x2="101.8" y2="474.2" stroke="#1a1a1a" stroke-width="0.95"/>
<polygon points="88.2,474.2 92.4,472.8 92.4,475.6" fill="#1a1a1a"/>
<polygon points="101.8,474.2 97.6,472.8 97.6,475.6" fill="#1a1a1a"/>
<text x="95.4" y="471.8" font-size="9.3" text-anchor="middle" font-weight="normal" stroke="#1a1a1a" stroke-width="0.08" fill="#1a1a1a">KA</text>
<line x1="79.4" y1="486.2" x2="110.6" y2="486.2" stroke="#1a1a1a" stroke-width="0.95"/>
<polygon points="79.4,486.2 83.6,484.8 83.6,487.6" fill="#1a1a1a"/>
<polygon points="110.6,486.2 106.4,484.8 106.4,487.6" fill="#1a1a1a"/>
<text x="95" y="483.8" font-size="9.5" text-anchor="middle" font-weight="normal" stroke="#1a1a1a" stroke-width="0.08" fill="#1a1a1a">C<tspan font-size="6" dx="1.5" dy="-2">±0.1</tspan></text>
<line x1="58.6" y1="497.4" x2="131.4" y2="497.4" stroke="#1a1a1a" stroke-width="0.95"/>
<polygon points="58.6,497.4 62.8,496 62.8,498.8" fill="#1a1a1a"/>
<polygon points="131.4,497.4 127.2,496 127.2,498.8" fill="#1a1a1a"/>
<text x="95" y="495" font-size="9.3" text-anchor="middle" font-weight="normal" stroke="#1a1a1a" stroke-width="0.08" fill="#1a1a1a">BC</text>
<line x1="112.5" y1="427" x2="135.4" y2="484.5" stroke="#1a1a1a" stroke-width="0.83"/>
<line x1="135.4" y1="484.5" x2="157" y2="484.5" stroke="#1a1a1a" stroke-width="0.83"/>
<text x="138" y="482" font-size="9.3" text-anchor="start" font-weight="normal" textLength="17.3" lengthAdjust="spacingAndGlyphs" stroke="#1a1a1a" stroke-width="0.08" fill="#1a1a1a">8<tspan font-size="7.5"> x </tspan>J</text>
<text x="291" y="354.6" font-size="9.3" text-anchor="start" font-weight="normal" stroke="#1a1a1a" stroke-width="0.08" fill="#1a1a1a">Width across flats B<tspan font-size="7" dy="1">1</tspan></text>
<line x1="291" y1="357" x2="380" y2="357" stroke="#1a1a1a" stroke-width="0.83"/>
<line x1="292" y1="357" x2="278" y2="385.7" stroke="#1a1a1a" stroke-width="0.83"/>
<text x="276.6" y="371.7" font-size="9.3" text-anchor="middle" font-weight="normal" stroke="#1a1a1a" stroke-width="0.08" fill="#1a1a1a">H<tspan font-size="7" dy="1">1</tspan></text>
<line x1="270.6" y1="374.5" x2="282.7" y2="374.5" stroke="#1a1a1a" stroke-width="0.95"/>
<polygon points="270.6,374.5 274.8,373.1 274.8,375.9" fill="#1a1a1a"/>
<polygon points="282.7,374.5 278.5,373.1 278.5,375.9" fill="#1a1a1a"/>
<line x1="270.6" y1="371" x2="270.6" y2="387" stroke="#1a1a1a" stroke-width="0.72"/>
<line x1="282.7" y1="371" x2="282.7" y2="387" stroke="#1a1a1a" stroke-width="0.72"/>
<text x="241.7" y="379.2" font-size="9.3" text-anchor="start" font-weight="normal" textLength="15.8" lengthAdjust="spacingAndGlyphs" stroke="#1a1a1a" stroke-width="0.08" fill="#1a1a1a">MM</text>
<line x1="240.7" y1="381.4" x2="257.5" y2="381.4" stroke="#1a1a1a" stroke-width="0.83"/>
<line x1="257.5" y1="381.4" x2="266" y2="396" stroke="#1a1a1a" stroke-width="0.83"/>
<line x1="210" y1="390" x2="325" y2="390" stroke="#1a1a1a" stroke-width="0.95"/>
<line x1="210" y1="419.3" x2="325" y2="419.3" stroke="#1a1a1a" stroke-width="0.95"/>
<line x1="211.8" y1="390" x2="211.8" y2="419.3" stroke="#1a1a1a" stroke-width="0.95"/>
<polygon points="211.8,390 210.4,394.2 213.2,394.2" fill="#1a1a1a"/>
<polygon points="211.8,419.3 210.4,415.1 213.2,415.1" fill="#1a1a1a"/>
<line x1="221" y1="395" x2="299.5" y2="395" stroke="#1a1a1a" stroke-width="0.83"/>
<line x1="221" y1="414.7" x2="299.5" y2="414.7" stroke="#1a1a1a" stroke-width="0.83"/>
<line x1="223" y1="395" x2="223" y2="414.7" stroke="#1a1a1a" stroke-width="0.95"/>
<polygon points="223,395 221.6,399.2 224.4,399.2" fill="#1a1a1a"/>
<polygon points="223,414.7 221.6,410.5 224.4,410.5" fill="#1a1a1a"/>
<text x="206.5" y="405" font-size="9" text-anchor="middle" font-weight="normal" transform="rotate(-90 206.5 405)" stroke="#1a1a1a" stroke-width="0.08" fill="#1a1a1a">øE<tspan font-size="6" dy="-4" dx="-1">0</tspan><tspan font-size="6" dy="7" dx="-5">−0.05</tspan></text>
<text x="220" y="405.5" font-size="9" text-anchor="middle" font-weight="normal" transform="rotate(-90 220 405.5)" stroke="#1a1a1a" stroke-width="0.08" fill="#1a1a1a">øD</text>
<line x1="236" y1="405" x2="625" y2="401.5" stroke="#1a1a1a" stroke-width="0.72" stroke-dasharray="9 2 2 2"/>
<rect x="260.3" y="396" width="11.2" height="16.8" fill="none" stroke="#1a1a1a" stroke-width="1.2"/>
<rect x="271.5" y="386.7" width="12.2" height="35.4" fill="none" stroke="#1a1a1a" stroke-width="1.2" rx="3.5"/>
<line x1="271.5" y1="395" x2="283.7" y2="395" stroke="#1a1a1a" stroke-width="0.61"/>
<line x1="271.5" y1="413.5" x2="283.7" y2="413.5" stroke="#1a1a1a" stroke-width="0.61"/>
<rect x="283.7" y="395" width="8.3" height="17.8" fill="none" stroke="#1a1a1a" stroke-width="1"/>
<rect x="292" y="393" width="7.5" height="22" fill="none" stroke="#1a1a1a" stroke-width="0.8"/>
<circle cx="303.3" cy="404.4" r="4" fill="none" stroke="#1a1a1a" stroke-width="1"/>
<line x1="299.5" y1="400" x2="307" y2="400" stroke="#1a1a1a" stroke-width="0.61"/>
<line x1="299.5" y1="409" x2="307" y2="409" stroke="#1a1a1a" stroke-width="0.61"/>
<rect x="320" y="389.4" width="6" height="28.8" fill="none" stroke="#1a1a1a" stroke-width="0.9"/>
<rect x="326" y="365.4" width="169.2" height="74.4" fill="none" stroke="#1a1a1a" stroke-width="1.2"/>
<line x1="326" y1="370.2" x2="495.2" y2="370.2" stroke="#1a1a1a" stroke-width="0.72"/>
<line x1="326" y1="435" x2="495.2" y2="435" stroke="#1a1a1a" stroke-width="0.72"/>
<line x1="372.8" y1="365.4" x2="372.8" y2="439.8" stroke="#1a1a1a" stroke-width="0.83"/>
<line x1="453.2" y1="365.4" x2="453.2" y2="439.8" stroke="#1a1a1a" stroke-width="0.83"/>
<circle cx="345.2" cy="403.3" r="9.6" fill="none" stroke="#1a1a1a" stroke-width="1.2"/>
<circle cx="345.2" cy="403.3" r="7.2" fill="none" stroke="#1a1a1a" stroke-width="0.9"/>
<line x1="345.2" y1="392" x2="345.2" y2="473" stroke="#1a1a1a" stroke-width="0.61"/>
<rect x="327.2" y="366.6" width="10.8" height="14.5" fill="none" stroke="#1a1a1a" stroke-width="1.4"/>
<circle cx="332.6" cy="373.85" r="2" fill="none" stroke="#1a1a1a" stroke-width="0.8"/>
<rect x="327.2" y="425.2" width="10.8" height="14.5" fill="none" stroke="#1a1a1a" stroke-width="1.4"/>
<circle cx="332.6" cy="432.45" r="2" fill="none" stroke="#1a1a1a" stroke-width="0.8"/>
<rect x="484.4" y="366.6" width="10.8" height="14.5" fill="none" stroke="#1a1a1a" stroke-width="1.4"/>
<circle cx="489.8" cy="373.85" r="2" fill="none" stroke="#1a1a1a" stroke-width="0.8"/>
<rect x="484.4" y="425.2" width="10.8" height="14.5" fill="none" stroke="#1a1a1a" stroke-width="1.4"/>
<circle cx="489.8" cy="432.45" r="2" fill="none" stroke="#1a1a1a" stroke-width="0.8"/>
<polygon points="390.8,365.4 393,351 426.5,351 431.6,365.4" fill="none" stroke="#1a1a1a" stroke-width="1.1"/>
<rect x="389.6" y="336.6" width="34.8" height="14.4" fill="none" stroke="#1a1a1a" stroke-width="1.2"/>
<line x1="398" y1="336.6" x2="398" y2="351" stroke="#1a1a1a" stroke-width="0.72"/>
<line x1="416" y1="336.6" x2="416" y2="351" stroke="#1a1a1a" stroke-width="0.72"/>
<rect x="398" y="327" width="18" height="9.6" fill="none" stroke="#1a1a1a" stroke-width="1"/>
<line x1="398" y1="327" x2="416" y2="336.6" stroke="#1a1a1a" stroke-width="0.72"/>
<line x1="416" y1="327" x2="398" y2="336.6" stroke="#1a1a1a" stroke-width="0.72"/>
<rect x="400.4" y="353.4" width="13.2" height="6" fill="none" stroke="#1a1a1a" stroke-width="1"/>
<line x1="407.6" y1="322" x2="407.6" y2="375" stroke="#1a1a1a" stroke-width="0.61"/>
<text x="498.8" y="338.8" font-size="9.5" text-anchor="start" font-weight="bold" stroke="#1a1a1a" stroke-width="0.08" fill="#1a1a1a">P</text>
<text x="507.7" y="338.8" font-size="7.8" text-anchor="start" font-weight="normal" textLength="36.3" lengthAdjust="spacingAndGlyphs" stroke="#1a1a1a" stroke-width="0.08" fill="#1a1a1a">(Rc, NPT)</text>
<text x="446.7" y="349.8" font-size="9.3" text-anchor="start" font-weight="normal" textLength="99" lengthAdjust="spacingAndGlyphs" stroke="#1a1a1a" stroke-width="0.08" fill="#1a1a1a">Head side cylinder port</text>
<line x1="446" y1="352" x2="547.2" y2="352" stroke="#1a1a1a" stroke-width="0.83"/>
<line x1="547.2" y1="352" x2="561" y2="368.7" stroke="#1a1a1a" stroke-width="0.83"/>
<line x1="562" y1="330.3" x2="580.3" y2="330.3" stroke="#1a1a1a" stroke-width="0.95"/>
<polygon points="562,330.3 566.2,328.9 566.2,331.7" fill="#1a1a1a"/>
<polygon points="580.3,330.3 576.1,328.9 576.1,331.7" fill="#1a1a1a"/>
<text x="570.7" y="327" font-size="9.3" text-anchor="middle" font-weight="normal" stroke="#1a1a1a" stroke-width="0.08" fill="#1a1a1a">GB</text>
<line x1="562" y1="326" x2="562" y2="440" stroke="#1a1a1a" stroke-width="0.72"/>
<line x1="580.3" y1="326" x2="580.3" y2="496" stroke="#1a1a1a" stroke-width="0.83"/>
<line x1="495.2" y1="370.4" x2="580.3" y2="370.4" stroke="#1a1a1a" stroke-width="1.06"/>
<line x1="495.2" y1="432.7" x2="580.3" y2="432.7" stroke="#1a1a1a" stroke-width="1.06"/>
<line x1="554.7" y1="372" x2="554.7" y2="381" stroke="#1a1a1a" stroke-width="1.06" stroke-dasharray="2 2"/>
<line x1="562" y1="372" x2="562" y2="381" stroke="#1a1a1a" stroke-width="1.06" stroke-dasharray="2 2"/>
<line x1="569.6" y1="372" x2="569.6" y2="381" stroke="#1a1a1a" stroke-width="1.06" stroke-dasharray="2 2"/>
<path d="M555,391.6 L579.6,391.6 L579.6,411.2 L555,411.2 Q552,411.2 552,408 L552,395 Q552,391.6 555,391.6 Z" fill="none" stroke="#1a1a1a" stroke-width="1"/>
<line x1="579.6" y1="391.6" x2="572" y2="397.2" stroke="#1a1a1a" stroke-width="0.95"/>
<line x1="579.6" y1="411.2" x2="572" y2="406.4" stroke="#1a1a1a" stroke-width="0.95"/>
<line x1="552.5" y1="397" x2="557" y2="397" stroke="#1a1a1a" stroke-width="0.61"/>
<circle cx="563.6" cy="401.2" r="8.6" fill="none" stroke="#1a1a1a" stroke-width="0.8"/>
<circle cx="563.6" cy="401.2" r="5.6" fill="none" stroke="#1a1a1a" stroke-width="1.6"/>
<line x1="583.5" y1="387.2" x2="583.5" y2="508" stroke="#1a1a1a" stroke-width="0.72"/>
<line x1="580" y1="387.2" x2="619.7" y2="387.2" stroke="#1a1a1a" stroke-width="0.83"/>
<line x1="580" y1="415.6" x2="619.7" y2="415.6" stroke="#1a1a1a" stroke-width="0.83"/>
<line x1="617.6" y1="387.2" x2="617.6" y2="415.6" stroke="#1a1a1a" stroke-width="0.95"/>
<polygon points="617.6,387.2 616.2,391.4 619,391.4" fill="#1a1a1a"/>
<polygon points="617.6,415.6 616.2,411.4 619,411.4" fill="#1a1a1a"/>
<text x="613.5" y="399.6" font-size="9" text-anchor="middle" font-weight="normal" transform="rotate(-90 613.5 399.6)" stroke="#1a1a1a" stroke-width="0.08" fill="#1a1a1a">øE<tspan font-size="6" dy="-4" dx="-1">0</tspan><tspan font-size="6" dy="7" dx="-5">−0.05</tspan></text>
<line x1="580.3" y1="370.4" x2="631.5" y2="370.4" stroke="#1a1a1a" stroke-width="0.83"/>
<line x1="580.3" y1="432.7" x2="631.5" y2="432.7" stroke="#1a1a1a" stroke-width="0.83"/>
<line x1="630.4" y1="370.4" x2="630.4" y2="432.7" stroke="#1a1a1a" stroke-width="0.95"/>
<polygon points="630.4,370.4 629,374.6 631.8,374.6" fill="#1a1a1a"/>
<polygon points="630.4,432.7 629,428.5 631.8,428.5" fill="#1a1a1a"/>
<text x="627.5" y="401.5" font-size="9" text-anchor="middle" font-weight="normal" transform="rotate(-90 627.5 401.5)" stroke="#1a1a1a" stroke-width="0.08" fill="#1a1a1a">øI</text>
<line x1="262.1" y1="413" x2="262.1" y2="508" stroke="#1a1a1a" stroke-width="0.72"/>
<line x1="294.8" y1="420" x2="294.8" y2="473" stroke="#1a1a1a" stroke-width="0.72"/>
<line x1="298.2" y1="420" x2="298.2" y2="485" stroke="#1a1a1a" stroke-width="0.72"/>
<line x1="307" y1="420" x2="307" y2="485" stroke="#1a1a1a" stroke-width="0.72"/>
<line x1="324.7" y1="418" x2="324.7" y2="472" stroke="#1a1a1a" stroke-width="0.72"/>
<line x1="328.4" y1="440" x2="328.4" y2="497" stroke="#1a1a1a" stroke-width="0.72"/>
<line x1="346.1" y1="412" x2="346.1" y2="472" stroke="#1a1a1a" stroke-width="0.72"/>
<line x1="495.3" y1="440" x2="495.3" y2="482" stroke="#1a1a1a" stroke-width="0.72"/>
<line x1="564.3" y1="433" x2="564.3" y2="482" stroke="#1a1a1a" stroke-width="0.72"/>
<line x1="262.1" y1="471.9" x2="293.9" y2="471.9" stroke="#1a1a1a" stroke-width="0.95"/>
<polygon points="262.1,471.9 266.3,470.5 266.3,473.3" fill="#1a1a1a"/>
<polygon points="293.9,471.9 289.7,470.5 289.7,473.3" fill="#1a1a1a"/>
<text x="279" y="468.5" font-size="9.3" text-anchor="middle" font-weight="normal" stroke="#1a1a1a" stroke-width="0.08" fill="#1a1a1a">AL</text>
<line x1="262.1" y1="483.5" x2="297.6" y2="483.5" stroke="#1a1a1a" stroke-width="0.95"/>
<polygon points="262.1,483.5 266.3,482.1 266.3,484.9" fill="#1a1a1a"/>
<polygon points="297.6,483.5 293.4,482.1 293.4,484.9" fill="#1a1a1a"/>
<text x="279.9" y="481.6" font-size="9.3" text-anchor="middle" font-weight="normal" stroke="#1a1a1a" stroke-width="0.08" fill="#1a1a1a">A</text>
<line x1="307" y1="483.5" x2="318" y2="483.5" stroke="#1a1a1a" stroke-width="0.83"/>
<polygon points="307,483.5 302.8,482.1 302.8,484.9" fill="#1a1a1a"/>
<text x="313.5" y="481" font-size="9.3" text-anchor="middle" font-weight="normal" stroke="#1a1a1a" stroke-width="0.08" fill="#1a1a1a">K</text>
<line x1="313" y1="470.8" x2="346.1" y2="470.8" stroke="#1a1a1a" stroke-width="0.83"/>
<polygon points="324.7,470.8 320.5,469.4 320.5,472.2" fill="#1a1a1a"/>
<polygon points="328.4,470.8 332.6,469.4 332.6,472.2" fill="#1a1a1a"/>
<text x="317.2" y="468.5" font-size="9.3" text-anchor="middle" font-weight="normal" stroke="#1a1a1a" stroke-width="0.08" fill="#1a1a1a">2</text>
<line x1="328.4" y1="470.8" x2="346.1" y2="470.8" stroke="#1a1a1a" stroke-width="0.95"/>
<polygon points="328.4,470.8 332.6,469.4 332.6,472.2" fill="#1a1a1a"/>
<polygon points="346.1,470.8 341.9,469.4 341.9,472.2" fill="#1a1a1a"/>
<text x="335.9" y="468.5" font-size="9.3" text-anchor="middle" font-weight="normal" stroke="#1a1a1a" stroke-width="0.08" fill="#1a1a1a">TA</text>
<line x1="262.1" y1="494.7" x2="328.4" y2="494.7" stroke="#1a1a1a" stroke-width="0.95"/>
<polygon points="262.1,494.7 266.3,493.3 266.3,496.1" fill="#1a1a1a"/>
<polygon points="328.4,494.7 324.2,493.3 324.2,496.1" fill="#1a1a1a"/>
<text x="294.8" y="492.8" font-size="9.3" text-anchor="middle" font-weight="normal" stroke="#1a1a1a" stroke-width="0.08" fill="#1a1a1a">H</text>
<line x1="328.4" y1="481.3" x2="495.3" y2="481.3" stroke="#1a1a1a" stroke-width="0.95"/>
<polygon points="328.4,481.3 332.6,479.9 332.6,482.7" fill="#1a1a1a"/>
<polygon points="495.3,481.3 491.1,479.9 491.1,482.7" fill="#1a1a1a"/>
<text x="413.9" y="478.4" font-size="9.3" text-anchor="middle" font-weight="normal" stroke="#1a1a1a" stroke-width="0.08" fill="#1a1a1a">BN</text>
<line x1="328.4" y1="494.2" x2="580.4" y2="492.5" stroke="#1a1a1a" stroke-width="0.95"/>
<polygon points="328.4,494.2 332.6,492.8 332.6,495.6" fill="#1a1a1a"/>
<polygon points="580.4,492.5 576.2,491.1 576.2,493.9" fill="#1a1a1a"/>
<text x="457.5" y="490.7" font-size="9.3" text-anchor="middle" font-weight="normal" textLength="44.6" lengthAdjust="spacingAndGlyphs" stroke="#1a1a1a" stroke-width="0.08" fill="#1a1a1a">S + Stroke</text>
<line x1="262.1" y1="506.8" x2="583.3" y2="504.2" stroke="#1a1a1a" stroke-width="0.95"/>
<polygon points="262.1,506.8 266.3,505.4 266.3,508.2" fill="#1a1a1a"/>
<polygon points="583.3,504.2 579.1,502.8 579.1,505.6" fill="#1a1a1a"/>
<text x="426.4" y="503.3" font-size="9.3" text-anchor="middle" font-weight="normal" textLength="49.8" lengthAdjust="spacingAndGlyphs" stroke="#1a1a1a" stroke-width="0.08" fill="#1a1a1a">ZZ + Stroke</text>
<line x1="564.3" y1="480.5" x2="580.4" y2="480.5" stroke="#1a1a1a" stroke-width="0.95"/>
<polygon points="564.3,480.5 568.5,479.1 568.5,481.9" fill="#1a1a1a"/>
<polygon points="580.4,480.5 576.2,479.1 576.2,481.9" fill="#1a1a1a"/>
<text x="573" y="477.5" font-size="9.3" text-anchor="middle" font-weight="normal" stroke="#1a1a1a" stroke-width="0.08" fill="#1a1a1a">TB</text>
<line x1="580.4" y1="492.5" x2="594" y2="492.5" stroke="#1a1a1a" stroke-width="0.83"/>
<polygon points="580.4,492.5 576.2,491.1 576.2,493.9" fill="#1a1a1a"/>
<polygon points="583.3,492.5 587.5,491.1 587.5,493.9" fill="#1a1a1a"/>
<text x="590.7" y="488" font-size="9.3" text-anchor="start" font-weight="normal" stroke="#1a1a1a" stroke-width="0.08" fill="#1a1a1a">2</text>
<line x1="350" y1="412" x2="385.6" y2="470.2" stroke="#1a1a1a" stroke-width="0.83"/>
<line x1="385.6" y1="470.2" x2="411.4" y2="470.2" stroke="#1a1a1a" stroke-width="0.83"/>
<text x="386.8" y="468.4" font-size="9.3" text-anchor="start" font-weight="normal" textLength="24.6" lengthAdjust="spacingAndGlyphs" stroke="#1a1a1a" stroke-width="0.08" fill="#1a1a1a">4<tspan font-size="7.5"> x </tspan>TC</text>
<rect x="648" y="364" width="73.8" height="72.8" fill="none" stroke="#1a1a1a" stroke-width="1.2"/>
<polyline points="651.6,364 651.6,350.5 718.2,350.5 718.2,364" fill="none" stroke="#1a1a1a" stroke-width="1"/>
<rect x="660.6" y="346.9" width="34.2" height="3.6" fill="none" stroke="#1a1a1a" stroke-width="1"/>
<rect x="664" y="335.2" width="28" height="11.7" fill="none" stroke="#1a1a1a" stroke-width="1.1"/>
<rect x="670" y="326.2" width="14.9" height="9" fill="none" stroke="#1a1a1a" stroke-width="0.9"/>
<line x1="677.7" y1="317" x2="677.7" y2="364" stroke="#1a1a1a" stroke-width="0.61"/>
<line x1="684.9" y1="317" x2="684.9" y2="440" stroke="#1a1a1a" stroke-width="0.61"/>
<line x1="655" y1="343" x2="655" y2="364" stroke="#1a1a1a" stroke-width="0.61"/>
<line x1="715" y1="343" x2="715" y2="364" stroke="#1a1a1a" stroke-width="0.61"/>
<circle cx="655.2" cy="371.2" r="6.8" fill="none" stroke="#1a1a1a" stroke-width="2.2"/>
<circle cx="655.2" cy="371.2" r="3.4" fill="none" stroke="#1a1a1a" stroke-width="0.9"/>
<line x1="646.4" y1="371.2" x2="664" y2="371.2" stroke="#1a1a1a" stroke-width="0.5"/>
<line x1="655.2" y1="362.4" x2="655.2" y2="380" stroke="#1a1a1a" stroke-width="0.5"/>
<circle cx="714.6" cy="372" r="6.8" fill="none" stroke="#1a1a1a" stroke-width="2.2"/>
<circle cx="714.6" cy="372" r="3.4" fill="none" stroke="#1a1a1a" stroke-width="0.9"/>
<line x1="705.8" y1="372" x2="723.4" y2="372" stroke="#1a1a1a" stroke-width="0.5"/>
<line x1="714.6" y1="363.2" x2="714.6" y2="380.8" stroke="#1a1a1a" stroke-width="0.5"/>
<circle cx="655.2" cy="429.6" r="6.8" fill="none" stroke="#1a1a1a" stroke-width="2.2"/>
<circle cx="655.2" cy="429.6" r="3.4" fill="none" stroke="#1a1a1a" stroke-width="0.9"/>
<line x1="646.4" y1="429.6" x2="664" y2="429.6" stroke="#1a1a1a" stroke-width="0.5"/>
<line x1="655.2" y1="420.8" x2="655.2" y2="438.4" stroke="#1a1a1a" stroke-width="0.5"/>
<circle cx="714.6" cy="430.5" r="6.8" fill="none" stroke="#1a1a1a" stroke-width="2.2"/>
<circle cx="714.6" cy="430.5" r="3.4" fill="none" stroke="#1a1a1a" stroke-width="0.9"/>
<line x1="705.8" y1="430.5" x2="723.4" y2="430.5" stroke="#1a1a1a" stroke-width="0.5"/>
<line x1="714.6" y1="421.7" x2="714.6" y2="439.3" stroke="#1a1a1a" stroke-width="0.5"/>
<circle cx="684.9" cy="400.9" r="31.5" fill="none" stroke="#1a1a1a" stroke-width="1.1"/>
<circle cx="684.9" cy="400.9" r="14.4" fill="none" stroke="#1a1a1a" stroke-width="1"/>
<circle cx="668.7" cy="384.3" r="4.6" fill="none" stroke="#1a1a1a" stroke-width="1.7"/>
<line x1="662.6" y1="384.3" x2="674.8" y2="384.3" stroke="#1a1a1a" stroke-width="0.61"/>
<line x1="668.7" y1="378.2" x2="668.7" y2="390.4" stroke="#1a1a1a" stroke-width="0.61"/>
<circle cx="701" cy="384.3" r="4.6" fill="none" stroke="#1a1a1a" stroke-width="1.7"/>
<line x1="694.9" y1="384.3" x2="707.1" y2="384.3" stroke="#1a1a1a" stroke-width="0.61"/>
<line x1="701" y1="378.2" x2="701" y2="390.4" stroke="#1a1a1a" stroke-width="0.61"/>
<circle cx="668.7" cy="417" r="4.6" fill="none" stroke="#1a1a1a" stroke-width="1.7"/>
<line x1="662.6" y1="417" x2="674.8" y2="417" stroke="#1a1a1a" stroke-width="0.61"/>
<line x1="668.7" y1="410.9" x2="668.7" y2="423.1" stroke="#1a1a1a" stroke-width="0.61"/>
<circle cx="701" cy="417" r="4.6" fill="none" stroke="#1a1a1a" stroke-width="1.7"/>
<line x1="694.9" y1="417" x2="707.1" y2="417" stroke="#1a1a1a" stroke-width="0.61"/>
<line x1="701" y1="410.9" x2="701" y2="423.1" stroke="#1a1a1a" stroke-width="0.61"/>
<line x1="640" y1="400.9" x2="730" y2="400.9" stroke="#1a1a1a" stroke-width="0.72" stroke-dasharray="9 2 2 2"/>
<line x1="677.5" y1="372" x2="677.5" y2="378" stroke="#1a1a1a" stroke-width="0.83"/>
<line x1="692" y1="372" x2="692" y2="378" stroke="#1a1a1a" stroke-width="0.83"/>
<line x1="705" y1="384.3" x2="739.7" y2="384.3" stroke="#1a1a1a" stroke-width="1.06"/>
<line x1="705" y1="417" x2="739.7" y2="417" stroke="#1a1a1a" stroke-width="1.06"/>
<line x1="738.8" y1="384.3" x2="738.8" y2="417" stroke="#1a1a1a" stroke-width="0.95"/>
<polygon points="738.8,384.3 737.4,388.5 740.2,388.5" fill="#1a1a1a"/>
<polygon points="738.8,417 737.4,412.8 740.2,412.8" fill="#1a1a1a"/>
<text x="735" y="401.8" font-size="9.5" text-anchor="middle" font-weight="normal" transform="rotate(-90 735 401.8)" stroke="#1a1a1a" stroke-width="0.08" fill="#1a1a1a">C<tspan font-size="6" dx="1.5" dy="-2">±0.1</tspan></text>
<line x1="668.7" y1="421" x2="668.7" y2="481" stroke="#1a1a1a" stroke-width="0.72"/>
<line x1="701" y1="421" x2="701" y2="481" stroke="#1a1a1a" stroke-width="0.72"/>
<line x1="654.3" y1="437" x2="654.3" y2="492" stroke="#1a1a1a" stroke-width="0.72"/>
<line x1="714.6" y1="437" x2="714.6" y2="492" stroke="#1a1a1a" stroke-width="0.72"/>
<line x1="668.7" y1="480" x2="701" y2="480" stroke="#1a1a1a" stroke-width="0.95"/>
<polygon points="668.7,480 672.9,478.6 672.9,481.4" fill="#1a1a1a"/>
<polygon points="701,480 696.8,478.6 696.8,481.4" fill="#1a1a1a"/>
<text x="684.9" y="476.4" font-size="9.5" text-anchor="middle" font-weight="normal" stroke="#1a1a1a" stroke-width="0.08" fill="#1a1a1a">C<tspan font-size="6" dx="1.5" dy="-2">±0.1</tspan></text>
<line x1="654.3" y1="490.8" x2="714.6" y2="490.8" stroke="#1a1a1a" stroke-width="0.95"/>
<polygon points="654.3,490.8 658.5,489.4 658.5,492.2" fill="#1a1a1a"/>
<polygon points="714.6,490.8 710.4,489.4 710.4,492.2" fill="#1a1a1a"/>
<text x="685.8" y="489" font-size="9.3" text-anchor="middle" font-weight="normal" stroke="#1a1a1a" stroke-width="0.08" fill="#1a1a1a">NA</text>
<text x="40.8" y="568" font-size="14.5" text-anchor="start" font-weight="bold" textLength="148.8" lengthAdjust="spacingAndGlyphs" stroke="#000" stroke-width="0.2" fill="#000">CLG1&#160;&#160;With rod boot</text>
<text x="40.8" y="584" font-size="12.6" text-anchor="start" font-weight="bold" textLength="203.2" lengthAdjust="spacingAndGlyphs" stroke="#000" stroke-width="0.2" fill="#000">(Mounting bracket: Basic style)</text>
<rect x="58" y="648.2" width="72.8" height="70.9" fill="none" stroke="#1a1a1a" stroke-width="1.4"/>
<polyline points="60.8,648.2 60.8,634.2 127,634.2 127,648.2" fill="none" stroke="#1a1a1a" stroke-width="1.2"/>
<rect x="84.1" y="631.4" width="33.6" height="4.6" fill="none" stroke="#1a1a1a" stroke-width="1.2"/>
<rect x="87" y="618.3" width="28" height="13.1" fill="none" stroke="#1a1a1a" stroke-width="1.3"/>
<rect x="92.5" y="610" width="15.9" height="8.3" fill="none" stroke="#1a1a1a" stroke-width="1.1"/>
<line x1="94.4" y1="601.5" x2="94.4" y2="740" stroke="#1a1a1a" stroke-width="0.83"/>
<line x1="100.6" y1="601.5" x2="100.6" y2="648" stroke="#1a1a1a" stroke-width="0.83"/>
<line x1="65" y1="628" x2="65" y2="646" stroke="#1a1a1a" stroke-width="0.61"/>
<line x1="122.5" y1="628" x2="122.5" y2="646" stroke="#1a1a1a" stroke-width="0.61"/>
<circle cx="64.5" cy="655.7" r="6.6" fill="none" stroke="#1a1a1a" stroke-width="2.4"/>
<circle cx="64.5" cy="655.7" r="3.5" fill="none" stroke="#1a1a1a" stroke-width="1"/>
<circle cx="64.5" cy="655.7" r="1.2" fill="none" stroke="#1a1a1a" stroke-width="0.6"/>
<circle cx="123.3" cy="655.7" r="6.6" fill="none" stroke="#1a1a1a" stroke-width="2.4"/>
<circle cx="123.3" cy="655.7" r="3.5" fill="none" stroke="#1a1a1a" stroke-width="1"/>
<circle cx="123.3" cy="655.7" r="1.2" fill="none" stroke="#1a1a1a" stroke-width="0.6"/>
<circle cx="64.5" cy="712.6" r="6.6" fill="none" stroke="#1a1a1a" stroke-width="2.4"/>
<circle cx="64.5" cy="712.6" r="3.5" fill="none" stroke="#1a1a1a" stroke-width="1"/>
<circle cx="64.5" cy="712.6" r="1.2" fill="none" stroke="#1a1a1a" stroke-width="0.6"/>
<circle cx="123.3" cy="712.6" r="6.6" fill="none" stroke="#1a1a1a" stroke-width="2.4"/>
<circle cx="123.3" cy="712.6" r="3.5" fill="none" stroke="#1a1a1a" stroke-width="1"/>
<circle cx="123.3" cy="712.6" r="1.2" fill="none" stroke="#1a1a1a" stroke-width="0.6"/>
<circle cx="94.4" cy="684.6" r="31.7" fill="none" stroke="#1a1a1a" stroke-width="1.2"/>
<circle cx="77.6" cy="667.8" r="7.5" fill="none" stroke="#1a1a1a" stroke-width="1"/>
<circle cx="77.6" cy="667.8" r="3" fill="none" stroke="#1a1a1a" stroke-width="1.6"/>
<line x1="70.6" y1="667.8" x2="84.6" y2="667.8" stroke="#1a1a1a" stroke-width="0.5"/>
<line x1="77.6" y1="660.8" x2="77.6" y2="674.8" stroke="#1a1a1a" stroke-width="0.5"/>
<circle cx="110.3" cy="667.8" r="7.5" fill="none" stroke="#1a1a1a" stroke-width="1"/>
<circle cx="110.3" cy="667.8" r="3" fill="none" stroke="#1a1a1a" stroke-width="1.6"/>
<line x1="103.3" y1="667.8" x2="117.3" y2="667.8" stroke="#1a1a1a" stroke-width="0.5"/>
<line x1="110.3" y1="660.8" x2="110.3" y2="674.8" stroke="#1a1a1a" stroke-width="0.5"/>
<circle cx="77.6" cy="700.5" r="7.5" fill="none" stroke="#1a1a1a" stroke-width="1"/>
<circle cx="77.6" cy="700.5" r="3" fill="none" stroke="#1a1a1a" stroke-width="1.6"/>
<line x1="70.6" y1="700.5" x2="84.6" y2="700.5" stroke="#1a1a1a" stroke-width="0.5"/>
<line x1="77.6" y1="693.5" x2="77.6" y2="707.5" stroke="#1a1a1a" stroke-width="0.5"/>
<circle cx="110.3" cy="700.5" r="7.5" fill="none" stroke="#1a1a1a" stroke-width="1"/>
<circle cx="110.3" cy="700.5" r="3" fill="none" stroke="#1a1a1a" stroke-width="1.6"/>
<line x1="103.3" y1="700.5" x2="117.3" y2="700.5" stroke="#1a1a1a" stroke-width="0.5"/>
<line x1="110.3" y1="693.5" x2="110.3" y2="707.5" stroke="#1a1a1a" stroke-width="0.5"/>
<polygon points="94.4,669.24 107.7,676.92 107.7,692.28 94.4,699.96 81.1,692.28 81.1,676.92" fill="none" stroke="#1a1a1a" stroke-width="1.2"/>
<circle cx="94.4" cy="684.6" r="7.8" fill="none" stroke="#1a1a1a" stroke-width="2.6"/>
<circle cx="94.4" cy="684.6" r="5.5" fill="none" stroke="#1a1a1a" stroke-width="0.8"/>
<rect x="86" y="707" width="21.5" height="9.3" fill="none" stroke="#1a1a1a" stroke-width="1.1"/>
<line x1="103" y1="697" x2="107" y2="697" stroke="#1a1a1a" stroke-width="0.83"/>
<line x1="103" y1="702" x2="107" y2="702" stroke="#1a1a1a" stroke-width="0.83"/>
<line x1="54.3" y1="684.6" x2="145.7" y2="684.6" stroke="#1a1a1a" stroke-width="0.95"/>
<line x1="143.9" y1="684.6" x2="143.9" y2="717.3" stroke="#1a1a1a" stroke-width="0.95"/>
<polygon points="143.9,684.6 142.5,688.8 145.3,688.8" fill="#1a1a1a"/>
<polygon points="143.9,717.3 142.5,713.1 145.3,713.1" fill="#1a1a1a"/>
<line x1="106.5" y1="717.3" x2="145.7" y2="717.3" stroke="#1a1a1a" stroke-width="0.95"/>
<text x="142" y="701.5" font-size="9.5" text-anchor="middle" font-weight="bold" transform="rotate(-90 142 701.5)" stroke="#1a1a1a" stroke-width="0.08" fill="#1a1a1a">JH</text>
<line x1="109.3" y1="716" x2="109.3" y2="743" stroke="#1a1a1a" stroke-width="0.83"/>
<line x1="94.4" y1="741.5" x2="109.3" y2="741.5" stroke="#1a1a1a" stroke-width="0.95"/>
<polygon points="94.4,741.5 98.6,740.1 98.6,742.9" fill="#1a1a1a"/>
<polygon points="109.3,741.5 105.1,740.1 105.1,742.9" fill="#1a1a1a"/>
<text x="112" y="739.7" font-size="9.8" text-anchor="start" font-weight="bold" stroke="#1a1a1a" stroke-width="0.08" fill="#1a1a1a">JW</text>
<line x1="232.3" y1="653.5" x2="394.7" y2="654" stroke="#1a1a1a" stroke-width="1.39"/>
<line x1="232.3" y1="715" x2="394.7" y2="714.7" stroke="#1a1a1a" stroke-width="1.39"/>
<line x1="245.3" y1="657.7" x2="328" y2="657.7" stroke="#1a1a1a" stroke-width="1.06"/>
<line x1="245.3" y1="710.2" x2="328" y2="710.2" stroke="#1a1a1a" stroke-width="1.06"/>
<line x1="233.7" y1="653.5" x2="233.7" y2="715" stroke="#1a1a1a" stroke-width="0.95"/>
<polygon points="233.7,653.5 232.3,657.7 235.1,657.7" fill="#1a1a1a"/>
<polygon points="233.7,715 232.3,710.8 235.1,710.8" fill="#1a1a1a"/>
<line x1="247" y1="657.7" x2="247" y2="710.2" stroke="#1a1a1a" stroke-width="0.95"/>
<polygon points="247,657.7 245.6,661.9 248.4,661.9" fill="#1a1a1a"/>
<polygon points="247,710.2 245.6,706 248.4,706" fill="#1a1a1a"/>
<text x="230.5" y="684.2" font-size="9" text-anchor="middle" font-weight="bold" transform="rotate(-90 230.5 684.2)" stroke="#1a1a1a" stroke-width="0.08" fill="#1a1a1a">øIJ</text>
<text x="243.8" y="684.2" font-size="9" text-anchor="middle" font-weight="bold" transform="rotate(-90 243.8 684.2)" stroke="#1a1a1a" stroke-width="0.08" fill="#1a1a1a">øe</text>
<line x1="254" y1="684.2" x2="450.7" y2="684.4" stroke="#1a1a1a" stroke-width="0.95"/>
<rect x="260" y="676.4" width="11.3" height="15.6" fill="none" stroke="#1a1a1a" stroke-width="1.6"/>
<rect x="270.8" y="668.6" width="10.9" height="32.1" fill="none" stroke="#1a1a1a" stroke-width="1.6" rx="3"/>
<line x1="270.8" y1="676.4" x2="281.7" y2="676.4" stroke="#1a1a1a" stroke-width="0.72"/>
<line x1="270.8" y1="692" x2="281.7" y2="692" stroke="#1a1a1a" stroke-width="0.72"/>
<rect x="281.7" y="676.4" width="10.3" height="15.6" fill="none" stroke="#1a1a1a" stroke-width="1.2"/>
<path d="M294,676 Q291.4,684.2 294,692.5 L297,694.4 L304.6,694.4 L304.6,674 L297,674 Z" fill="none" stroke="#1a1a1a" stroke-width="1.3"/>
<circle cx="300.4" cy="684.2" r="4.2" fill="none" stroke="#1a1a1a" stroke-width="1"/>
<line x1="297.5" y1="681.3" x2="303.3" y2="687.1" stroke="#1a1a1a" stroke-width="0.72"/>
<line x1="303.3" y1="681.3" x2="297.5" y2="687.1" stroke="#1a1a1a" stroke-width="0.72"/>
<rect x="304.6" y="674.6" width="9" height="19.2" fill="none" stroke="#1a1a1a" stroke-width="1.1"/>
<rect x="313.6" y="672.2" width="13.8" height="22.2" fill="none" stroke="#1a1a1a" stroke-width="1.4"/>
<circle cx="320.2" cy="699.8" r="7" fill="none" stroke="#1a1a1a" stroke-width="1.7"/>
<line x1="313.6" y1="698.3" x2="326.8" y2="698.3" stroke="#1a1a1a" stroke-width="0.95"/>
<line x1="313.6" y1="701.3" x2="326.8" y2="701.3" stroke="#1a1a1a" stroke-width="0.95"/>
<line x1="329" y1="657.3" x2="329" y2="710.2" stroke="#1a1a1a" stroke-width="1.39"/>
<line x1="331.7" y1="657.3" x2="331.7" y2="710.2" stroke="#1a1a1a" stroke-width="1.39"/>
<line x1="334.4" y1="657.3" x2="334.4" y2="710.2" stroke="#1a1a1a" stroke-width="1.39"/>
<line x1="337" y1="657.3" x2="337" y2="710.2" stroke="#1a1a1a" stroke-width="1.39"/>
<line x1="339.7" y1="657.3" x2="339.7" y2="710.2" stroke="#1a1a1a" stroke-width="1.39"/>
<line x1="358.4" y1="657.3" x2="358.4" y2="710.2" stroke="#1a1a1a" stroke-width="1.39"/>
<line x1="361" y1="657.3" x2="361" y2="710.2" stroke="#1a1a1a" stroke-width="1.39"/>
<line x1="363.7" y1="657.3" x2="363.7" y2="710.2" stroke="#1a1a1a" stroke-width="1.39"/>
<line x1="366.4" y1="657.3" x2="366.4" y2="710.2" stroke="#1a1a1a" stroke-width="1.39"/>
<line x1="328.4" y1="658.5" x2="368.5" y2="658.5" stroke="#1a1a1a" stroke-width="0.72"/>
<line x1="328.4" y1="709" x2="368.5" y2="709" stroke="#1a1a1a" stroke-width="0.72"/>
<line x1="328.4" y1="657.7" x2="368.5" y2="657.7" stroke="#1a1a1a" stroke-width="1.06"/>
<line x1="328.4" y1="710" x2="368.5" y2="710" stroke="#1a1a1a" stroke-width="1.06"/>
<rect x="368.5" y="661.5" width="15" height="44.8" fill="none" stroke="#1a1a1a" stroke-width="1.1"/>
<circle cx="376" cy="710" r="7" fill="none" stroke="#1a1a1a" stroke-width="1.6"/>
<line x1="370" y1="710" x2="382" y2="710" stroke="#1a1a1a" stroke-width="0.95"/>
<rect x="383.5" y="661.5" width="11.2" height="44.8" fill="none" stroke="#1a1a1a" stroke-width="1.1"/>
<rect x="386.3" y="662.4" width="7.4" height="6.6" fill="none" stroke="#1a1a1a" stroke-width="1"/>
<circle cx="390.8" cy="665.7" r="2" fill="#222" stroke="#1a1a1a" stroke-width="0"/>
<rect x="386.3" y="699.5" width="7.4" height="6.6" fill="none" stroke="#1a1a1a" stroke-width="1"/>
<circle cx="390.8" cy="702.8" r="2" fill="#222" stroke="#1a1a1a" stroke-width="0"/>
<line x1="394.7" y1="654" x2="394.7" y2="714.7" stroke="#1a1a1a" stroke-width="1.51"/>
<line x1="399.3" y1="654" x2="399.3" y2="779" stroke="#1a1a1a" stroke-width="1.51"/>
<path d="M399.3,648.4 L433,648.4 Q441,684 433,720.3 L399.3,720.3" fill="none" stroke="#1a1a1a" stroke-width="1.3"/>
<line x1="399.3" y1="652.8" x2="434" y2="652.8" stroke="#1a1a1a" stroke-width="1.06"/>
<line x1="399.3" y1="715.8" x2="434" y2="715.8" stroke="#1a1a1a" stroke-width="1.06"/>
<rect x="400.3" y="648.6" width="11" height="14" fill="none" stroke="#1a1a1a" stroke-width="1.5"/>
<circle cx="405.8" cy="655.6" r="2.4" fill="#222" stroke="#1a1a1a" stroke-width="0"/>
<rect x="400.3" y="706" width="11" height="14" fill="none" stroke="#1a1a1a" stroke-width="1.5"/>
<circle cx="405.8" cy="713" r="2.4" fill="#222" stroke="#1a1a1a" stroke-width="0"/>
<circle cx="418" cy="683.9" r="9.5" fill="none" stroke="#1a1a1a" stroke-width="0.9"/>
<circle cx="418" cy="683.9" r="7" fill="none" stroke="#1a1a1a" stroke-width="1.5"/>
<line x1="418" y1="672" x2="418" y2="696" stroke="#1a1a1a" stroke-width="0.72"/>
<line x1="260" y1="692" x2="260" y2="778" stroke="#1a1a1a" stroke-width="1.17"/>
<line x1="313.5" y1="694" x2="313.5" y2="750" stroke="#1a1a1a" stroke-width="1.17"/>
<line x1="327.7" y1="710" x2="327.7" y2="750" stroke="#1a1a1a" stroke-width="2.29"/>
<line x1="368.5" y1="712" x2="368.5" y2="750" stroke="#1a1a1a" stroke-width="1.17"/>
<line x1="383.1" y1="712" x2="383.1" y2="734" stroke="#1a1a1a" stroke-width="0.95"/>
<line x1="313.6" y1="748.4" x2="326.4" y2="748.4" stroke="#1a1a1a" stroke-width="0.95"/>
<polygon points="313.6,748.4 317.8,747 317.8,749.8" fill="#1a1a1a"/>
<polygon points="326.4,748.4 322.2,747 322.2,749.8" fill="#1a1a1a"/>
<text x="319.5" y="745.7" font-size="9.3" text-anchor="middle" font-weight="normal" stroke="#1a1a1a" stroke-width="0.08" fill="#1a1a1a">8</text>
<line x1="328.4" y1="748" x2="368.2" y2="748" stroke="#1a1a1a" stroke-width="0.95"/>
<polygon points="328.4,748 332.6,746.6 332.6,749.4" fill="#1a1a1a"/>
<polygon points="368.2,748 364,746.6 364,749.4" fill="#1a1a1a"/>
<text x="350.8" y="745.5" font-size="10" text-anchor="middle" font-weight="normal" font-style="italic" stroke="#1a1a1a" stroke-width="0.08" fill="#1a1a1a">ℓ</text>
<line x1="368.9" y1="748" x2="399.3" y2="748" stroke="#1a1a1a" stroke-width="0.95"/>
<polygon points="368.9,748 373.1,746.6 373.1,749.4" fill="#1a1a1a"/>
<polygon points="399.3,748 395.1,746.6 395.1,749.4" fill="#1a1a1a"/>
<text x="383.5" y="745.7" font-size="10" text-anchor="middle" font-weight="bold" stroke="#1a1a1a" stroke-width="0.08" fill="#1a1a1a">f</text>
<line x1="368.9" y1="732.4" x2="383.1" y2="732.4" stroke="#1a1a1a" stroke-width="0.95"/>
<polygon points="368.9,732.4 373.1,731 373.1,733.8" fill="#1a1a1a"/>
<polygon points="383.1,732.4 378.9,731 378.9,733.8" fill="#1a1a1a"/>
<text x="376" y="729.6" font-size="9.3" text-anchor="middle" font-weight="normal" stroke="#1a1a1a" stroke-width="0.08" fill="#1a1a1a">8</text>
<line x1="260.7" y1="762.5" x2="399.3" y2="762.5" stroke="#1a1a1a" stroke-width="0.95"/>
<polygon points="260.7,762.5 264.9,761.1 264.9,763.9" fill="#1a1a1a"/>
<polygon points="399.3,762.5 395.1,761.1 395.1,763.9" fill="#1a1a1a"/>
<text x="330" y="759.5" font-size="10" text-anchor="middle" font-weight="normal" stroke="#1a1a1a" stroke-width="0.08" fill="#1a1a1a"><tspan font-weight="bold">h</tspan> + <tspan font-style="italic">ℓ</tspan></text>
<line x1="259.6" y1="777" x2="399.3" y2="777" stroke="#1a1a1a" stroke-width="0.95"/>
<polygon points="259.6,777 263.8,775.6 263.8,778.4" fill="#1a1a1a"/>
<polygon points="399.3,777 395.1,775.6 395.1,778.4" fill="#1a1a1a"/>
<text x="330.8" y="773.4" font-size="10" text-anchor="middle" font-weight="normal" stroke="#1a1a1a" stroke-width="0.08" fill="#1a1a1a"><tspan font-weight="bold">ZZ</tspan> + <tspan font-style="italic">ℓ</tspan> + Stroke</text>
</svg>
</body></html>
